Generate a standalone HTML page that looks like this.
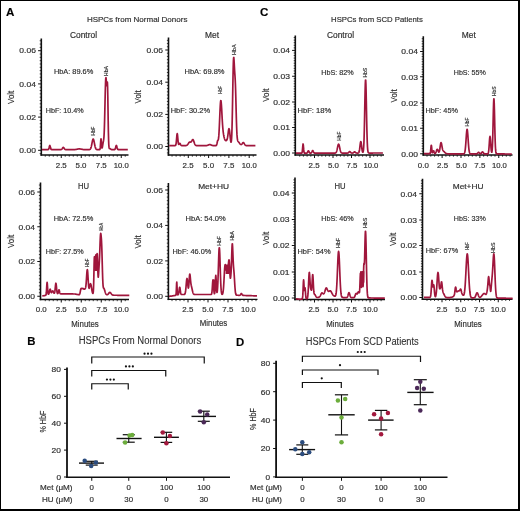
<!DOCTYPE html>
<html><head><meta charset="utf-8"><style>
html,body{margin:0;padding:0;background:#fff;}
body{width:520px;height:511px;overflow:hidden;}
svg{display:block;will-change:transform;}
text{font-family:"Liberation Sans", sans-serif;stroke:#303030;stroke-width:0.18px;}
</style></head><body>
<svg width="520" height="511" viewBox="0 0 520 511">
<rect x="0" y="0" width="520" height="511" fill="#fff"/>
<text x="6.0" y="15.8" font-size="11.6" font-weight="bold" fill="#000">A</text>
<text x="260.0" y="15.6" font-size="11.6" font-weight="bold" fill="#000">C</text>
<text x="86.90" y="22.00" font-size="7.8" fill="#303030" textLength="100.50" lengthAdjust="spacingAndGlyphs">HSPCs from Normal Donors</text>
<text x="331.10" y="22.00" font-size="7.8" fill="#303030" textLength="91.70" lengthAdjust="spacingAndGlyphs">HSPCs from SCD Patients</text>
<line x1="41.30" y1="38.50" x2="41.30" y2="155.70" stroke="#111" stroke-width="1.6"/>
<line x1="40.50" y1="155.00" x2="128.50" y2="155.00" stroke="#111" stroke-width="1.4"/>
<line x1="39.70" y1="146.98" x2="41.30" y2="146.98" stroke="#111" stroke-width="0.8"/>
<line x1="39.70" y1="143.66" x2="41.30" y2="143.66" stroke="#111" stroke-width="0.8"/>
<line x1="39.70" y1="140.34" x2="41.30" y2="140.34" stroke="#111" stroke-width="0.8"/>
<line x1="39.70" y1="137.02" x2="41.30" y2="137.02" stroke="#111" stroke-width="0.8"/>
<line x1="39.70" y1="133.70" x2="41.30" y2="133.70" stroke="#111" stroke-width="0.8"/>
<line x1="39.70" y1="130.38" x2="41.30" y2="130.38" stroke="#111" stroke-width="0.8"/>
<line x1="39.70" y1="127.06" x2="41.30" y2="127.06" stroke="#111" stroke-width="0.8"/>
<line x1="39.70" y1="123.74" x2="41.30" y2="123.74" stroke="#111" stroke-width="0.8"/>
<line x1="39.70" y1="120.42" x2="41.30" y2="120.42" stroke="#111" stroke-width="0.8"/>
<line x1="39.70" y1="113.78" x2="41.30" y2="113.78" stroke="#111" stroke-width="0.8"/>
<line x1="39.70" y1="110.46" x2="41.30" y2="110.46" stroke="#111" stroke-width="0.8"/>
<line x1="39.70" y1="107.14" x2="41.30" y2="107.14" stroke="#111" stroke-width="0.8"/>
<line x1="39.70" y1="103.82" x2="41.30" y2="103.82" stroke="#111" stroke-width="0.8"/>
<line x1="39.70" y1="100.50" x2="41.30" y2="100.50" stroke="#111" stroke-width="0.8"/>
<line x1="39.70" y1="97.18" x2="41.30" y2="97.18" stroke="#111" stroke-width="0.8"/>
<line x1="39.70" y1="93.86" x2="41.30" y2="93.86" stroke="#111" stroke-width="0.8"/>
<line x1="39.70" y1="90.54" x2="41.30" y2="90.54" stroke="#111" stroke-width="0.8"/>
<line x1="39.70" y1="87.22" x2="41.30" y2="87.22" stroke="#111" stroke-width="0.8"/>
<line x1="39.70" y1="80.58" x2="41.30" y2="80.58" stroke="#111" stroke-width="0.8"/>
<line x1="39.70" y1="77.26" x2="41.30" y2="77.26" stroke="#111" stroke-width="0.8"/>
<line x1="39.70" y1="73.94" x2="41.30" y2="73.94" stroke="#111" stroke-width="0.8"/>
<line x1="39.70" y1="70.62" x2="41.30" y2="70.62" stroke="#111" stroke-width="0.8"/>
<line x1="39.70" y1="67.30" x2="41.30" y2="67.30" stroke="#111" stroke-width="0.8"/>
<line x1="39.70" y1="63.98" x2="41.30" y2="63.98" stroke="#111" stroke-width="0.8"/>
<line x1="39.70" y1="60.66" x2="41.30" y2="60.66" stroke="#111" stroke-width="0.8"/>
<line x1="39.70" y1="57.34" x2="41.30" y2="57.34" stroke="#111" stroke-width="0.8"/>
<line x1="39.70" y1="54.02" x2="41.30" y2="54.02" stroke="#111" stroke-width="0.8"/>
<line x1="39.70" y1="47.38" x2="41.30" y2="47.38" stroke="#111" stroke-width="0.8"/>
<line x1="39.70" y1="44.06" x2="41.30" y2="44.06" stroke="#111" stroke-width="0.8"/>
<line x1="39.70" y1="40.74" x2="41.30" y2="40.74" stroke="#111" stroke-width="0.8"/>
<line x1="39.70" y1="153.62" x2="41.30" y2="153.62" stroke="#111" stroke-width="0.8"/>
<line x1="38.10" y1="150.30" x2="41.30" y2="150.30" stroke="#111" stroke-width="1.0"/>
<text x="35.90" y="153.05" font-size="7.6" fill="#303030" text-anchor="end" textLength="16.60" lengthAdjust="spacingAndGlyphs">0.00</text>
<line x1="38.10" y1="117.10" x2="41.30" y2="117.10" stroke="#111" stroke-width="1.0"/>
<text x="35.90" y="119.85" font-size="7.6" fill="#303030" text-anchor="end" textLength="16.60" lengthAdjust="spacingAndGlyphs">0.02</text>
<line x1="38.10" y1="83.90" x2="41.30" y2="83.90" stroke="#111" stroke-width="1.0"/>
<text x="35.90" y="86.65" font-size="7.6" fill="#303030" text-anchor="end" textLength="16.60" lengthAdjust="spacingAndGlyphs">0.04</text>
<line x1="38.10" y1="50.70" x2="41.30" y2="50.70" stroke="#111" stroke-width="1.0"/>
<text x="35.90" y="53.45" font-size="7.6" fill="#303030" text-anchor="end" textLength="16.60" lengthAdjust="spacingAndGlyphs">0.06</text>
<line x1="45.25" y1="155.00" x2="45.25" y2="156.70" stroke="#111" stroke-width="0.8"/>
<line x1="49.25" y1="155.00" x2="49.25" y2="156.70" stroke="#111" stroke-width="0.8"/>
<line x1="53.25" y1="155.00" x2="53.25" y2="156.70" stroke="#111" stroke-width="0.8"/>
<line x1="57.25" y1="155.00" x2="57.25" y2="156.70" stroke="#111" stroke-width="0.8"/>
<line x1="61.25" y1="155.00" x2="61.25" y2="158.00" stroke="#111" stroke-width="1.0"/>
<line x1="65.25" y1="155.00" x2="65.25" y2="156.70" stroke="#111" stroke-width="0.8"/>
<line x1="69.25" y1="155.00" x2="69.25" y2="156.70" stroke="#111" stroke-width="0.8"/>
<line x1="73.25" y1="155.00" x2="73.25" y2="156.70" stroke="#111" stroke-width="0.8"/>
<line x1="77.25" y1="155.00" x2="77.25" y2="156.70" stroke="#111" stroke-width="0.8"/>
<line x1="81.25" y1="155.00" x2="81.25" y2="158.00" stroke="#111" stroke-width="1.0"/>
<line x1="85.25" y1="155.00" x2="85.25" y2="156.70" stroke="#111" stroke-width="0.8"/>
<line x1="89.25" y1="155.00" x2="89.25" y2="156.70" stroke="#111" stroke-width="0.8"/>
<line x1="93.25" y1="155.00" x2="93.25" y2="156.70" stroke="#111" stroke-width="0.8"/>
<line x1="97.25" y1="155.00" x2="97.25" y2="156.70" stroke="#111" stroke-width="0.8"/>
<line x1="101.25" y1="155.00" x2="101.25" y2="158.00" stroke="#111" stroke-width="1.0"/>
<line x1="105.25" y1="155.00" x2="105.25" y2="156.70" stroke="#111" stroke-width="0.8"/>
<line x1="109.25" y1="155.00" x2="109.25" y2="156.70" stroke="#111" stroke-width="0.8"/>
<line x1="113.25" y1="155.00" x2="113.25" y2="156.70" stroke="#111" stroke-width="0.8"/>
<line x1="117.25" y1="155.00" x2="117.25" y2="156.70" stroke="#111" stroke-width="0.8"/>
<line x1="121.25" y1="155.00" x2="121.25" y2="158.00" stroke="#111" stroke-width="1.0"/>
<line x1="125.25" y1="155.00" x2="125.25" y2="156.70" stroke="#111" stroke-width="0.8"/>
<text x="61.25" y="168.00" font-size="7.6" fill="#303030" text-anchor="middle" textLength="11.00" lengthAdjust="spacingAndGlyphs">2.5</text>
<text x="81.00" y="168.00" font-size="7.6" fill="#303030" text-anchor="middle" textLength="11.00" lengthAdjust="spacingAndGlyphs">5.0</text>
<text x="101.25" y="168.00" font-size="7.6" fill="#303030" text-anchor="middle" textLength="11.00" lengthAdjust="spacingAndGlyphs">7.5</text>
<text x="121.25" y="168.00" font-size="7.6" fill="#303030" text-anchor="middle" textLength="15.00" lengthAdjust="spacingAndGlyphs">10.0</text>
<text x="14.40" y="97.30" font-size="8.4" fill="#303030" text-anchor="middle" textLength="13.20" lengthAdjust="spacingAndGlyphs" transform="rotate(-90 14.40 97.30)">Volt</text>
<text x="83.50" y="38.30" font-size="8.2" fill="#303030" text-anchor="middle" textLength="27.00" lengthAdjust="spacingAndGlyphs">Control</text>
<text x="53.90" y="74.20" font-size="7.4" fill="#303030" textLength="39.40" lengthAdjust="spacingAndGlyphs">HbA: 89.6%</text>
<text x="45.75" y="112.60" font-size="7.4" fill="#303030" textLength="38.00" lengthAdjust="spacingAndGlyphs">HbF: 10.4%</text>
<text x="95.20" y="135.40" font-size="5.6" fill="#303030" textLength="8.70" lengthAdjust="spacingAndGlyphs" transform="rotate(-90 95.20 135.40)">HbF</text>
<text x="107.90" y="76.00" font-size="5.6" fill="#303030" textLength="10.00" lengthAdjust="spacingAndGlyphs" transform="rotate(-90 107.90 76.00)">HbA</text>
<polyline points="42.00,149.60 42.20,149.60 42.40,149.60 42.60,149.60 42.80,149.60 43.00,149.60 43.20,149.60 43.40,149.60 43.60,149.60 43.80,149.60 44.00,149.60 44.20,149.60 44.40,149.60 44.60,149.60 44.80,149.60 45.00,149.60 45.20,149.60 45.40,149.60 45.60,149.60 45.80,149.60 46.00,149.60 46.20,149.60 46.40,149.61 46.60,149.61 46.80,149.61 47.00,149.61 47.20,149.61 47.40,149.61 47.60,149.60 47.80,149.60 48.00,149.58 48.20,149.53 48.40,149.41 48.60,149.16 48.80,148.73 49.00,148.07 49.20,147.25 49.40,146.40 49.60,145.74 49.80,145.50 50.00,145.74 50.20,146.40 50.40,147.25 50.60,148.08 50.80,148.73 51.00,149.16 51.20,149.41 51.40,149.53 51.60,149.58 51.80,149.60 52.00,149.61 52.20,149.61 52.40,149.61 52.60,149.61 52.80,149.61 53.00,149.61 53.20,149.61 53.40,149.61 53.60,149.61 53.80,149.61 54.00,149.61 54.20,149.61 54.40,149.61 54.60,149.61 54.80,149.61 55.00,149.62 55.20,149.62 55.40,149.62 55.60,149.62 55.80,149.62 56.00,149.62 56.20,149.62 56.40,149.62 56.60,149.62 56.80,149.62 57.00,149.62 57.20,149.62 57.40,149.62 57.60,149.62 57.80,149.62 58.00,149.62 58.20,149.62 58.40,149.62 58.60,149.62 58.80,149.62 59.00,149.62 59.20,149.62 59.40,149.62 59.60,149.62 59.80,149.62 60.00,149.62 60.20,149.62 60.40,149.62 60.60,149.61 60.80,149.60 61.00,149.57 61.20,149.53 61.40,149.46 61.60,149.35 61.80,149.19 62.00,148.97 62.20,148.70 62.40,148.39 62.60,148.07 62.80,147.77 63.00,147.54 63.20,147.41 63.40,147.40 63.60,147.51 63.80,147.72 64.00,148.01 64.20,148.33 64.40,148.65 64.60,148.92 64.80,149.15 65.00,149.32 65.20,149.44 65.40,149.52 65.60,149.57 65.80,149.60 66.00,149.61 66.20,149.62 66.40,149.63 66.60,149.63 66.80,149.63 67.00,149.63 67.20,149.63 67.40,149.63 67.60,149.63 67.80,149.63 68.00,149.63 68.20,149.63 68.40,149.63 68.60,149.63 68.80,149.63 69.00,149.63 69.20,149.63 69.40,149.63 69.60,149.63 69.80,149.63 70.00,149.63 70.20,149.63 70.40,149.63 70.60,149.63 70.80,149.63 71.00,149.63 71.20,149.63 71.40,149.63 71.60,149.63 71.80,149.63 72.00,149.63 72.20,149.63 72.40,149.63 72.60,149.63 72.80,149.63 73.00,149.63 73.20,149.63 73.40,149.62 73.60,149.62 73.80,149.61 74.00,149.61 74.20,149.60 74.40,149.59 74.60,149.58 74.80,149.56 75.00,149.55 75.20,149.53 75.40,149.51 75.60,149.48 75.80,149.45 76.00,149.42 76.20,149.39 76.40,149.35 76.60,149.32 76.80,149.28 77.00,149.23 77.20,149.19 77.40,149.15 77.60,149.11 77.80,149.07 78.00,149.03 78.20,149.00 78.40,148.97 78.60,148.94 78.80,148.92 79.00,148.91 79.20,148.90 79.40,148.90 79.60,148.91 79.80,148.92 80.00,148.94 80.20,148.97 80.40,149.00 80.60,149.03 80.80,149.07 81.00,149.11 81.20,149.15 81.40,149.20 81.60,149.24 81.80,149.28 82.00,149.32 82.20,149.36 82.40,149.40 82.60,149.43 82.80,149.46 83.00,149.49 83.20,149.52 83.40,149.54 83.60,149.56 83.80,149.57 84.00,149.59 84.20,149.60 84.40,149.61 84.60,149.62 84.80,149.63 85.00,149.63 85.20,149.64 85.40,149.64 85.60,149.64 85.80,149.64 86.00,149.65 86.20,149.65 86.40,149.65 86.60,149.65 86.80,149.65 87.00,149.65 87.20,149.65 87.40,149.65 87.60,149.65 87.80,149.65 88.00,149.65 88.20,149.65 88.40,149.65 88.60,149.65 88.80,149.64 89.00,149.63 89.20,149.61 89.40,149.58 89.60,149.53 89.80,149.45 90.00,149.34 90.20,149.17 90.40,148.93 90.60,148.60 90.80,148.18 91.00,147.63 91.20,146.96 91.40,146.16 91.60,145.24 91.80,144.24 92.00,143.18 92.20,142.13 92.40,141.15 92.60,140.29 92.80,139.63 93.00,139.21 93.20,139.07 93.40,139.21 93.60,139.63 93.80,140.30 94.00,141.15 94.20,142.13 94.40,143.18 94.60,144.24 94.80,145.24 95.00,146.16 95.20,146.96 95.40,147.63 95.60,148.18 95.80,148.61 96.00,148.93 96.20,149.17 96.40,149.34 96.60,149.46 96.80,149.54 97.00,149.59 97.20,149.62 97.40,149.64 97.60,149.65 97.80,149.66 98.00,149.66 98.20,149.66 98.40,149.66 98.60,149.67 98.80,149.67 99.00,149.67 99.20,149.67 99.40,149.66 99.60,149.63 99.80,149.48 100.00,149.03 100.20,147.90 100.40,145.77 100.60,142.79 100.80,140.00 101.00,138.83 101.20,139.96 101.40,142.68 101.60,145.52 101.80,147.39 102.00,148.06 102.20,147.82 102.40,147.00 102.60,145.86 102.80,144.57 103.00,143.32 103.20,142.22 103.40,141.24 103.60,140.20 103.80,138.71 104.00,136.32 104.20,132.60 104.40,127.28 104.60,120.34 104.80,112.10 105.00,103.16 105.20,94.36 105.40,86.67 105.60,80.98 105.80,77.91 106.00,77.61 106.20,79.56 106.40,82.54 106.60,84.98 106.80,85.58 107.00,84.17 107.20,82.19 107.40,82.21 107.60,86.53 107.80,95.74 108.00,108.25 108.20,121.29 108.40,132.33 108.60,140.14 108.80,144.81 109.00,147.17 109.20,148.16 109.40,148.49 109.60,148.57 109.80,148.60 110.00,148.64 110.20,148.73 110.40,148.86 110.60,149.01 110.80,149.16 111.00,149.30 111.20,149.42 111.40,149.51 111.60,149.57 111.80,149.62 112.00,149.65 112.20,149.66 112.40,149.67 112.60,149.68 112.80,149.68 113.00,149.68 113.20,149.68 113.40,149.68 113.60,149.68 113.80,149.68 114.00,149.68 114.20,149.67 114.40,149.65 114.60,149.60 114.80,149.49 115.00,149.28 115.20,148.90 115.40,148.35 115.60,147.61 115.80,146.79 116.00,146.05 116.20,145.56 116.40,145.48 116.60,145.81 116.80,146.47 117.00,147.29 117.20,148.07 117.40,148.71 117.60,149.15 117.80,149.42 118.00,149.57 118.20,149.64 118.40,149.67 118.60,149.68 118.80,149.69 119.00,149.69 119.20,149.69 119.40,149.69 119.60,149.69 119.80,149.69 120.00,149.69 120.20,149.69 120.40,149.69 120.60,149.69 120.80,149.69 121.00,149.69 121.20,149.69 121.40,149.69 121.60,149.69 121.80,149.69 122.00,149.69 122.20,149.69 122.40,149.69 122.60,149.69 122.80,149.69 123.00,149.69 123.20,149.69 123.40,149.69 123.60,149.69 123.80,149.70 124.00,149.70 124.20,149.70 124.40,149.70 124.60,149.70 124.80,149.70 125.00,149.70 125.20,149.70 125.40,149.70 125.60,149.70 125.80,149.70 126.00,149.70 126.20,149.70 126.40,149.70 126.60,149.70 126.80,149.70 127.00,149.70 127.20,149.70 127.40,149.70 127.60,149.70 127.80,149.70" fill="none" stroke="#a0163c" stroke-width="1.7" stroke-linejoin="round"/>
<line x1="168.50" y1="37.50" x2="168.50" y2="155.70" stroke="#111" stroke-width="1.6"/>
<line x1="167.70" y1="155.00" x2="256.50" y2="155.00" stroke="#111" stroke-width="1.4"/>
<line x1="166.90" y1="143.28" x2="168.50" y2="143.28" stroke="#111" stroke-width="0.8"/>
<line x1="166.90" y1="140.07" x2="168.50" y2="140.07" stroke="#111" stroke-width="0.8"/>
<line x1="166.90" y1="136.85" x2="168.50" y2="136.85" stroke="#111" stroke-width="0.8"/>
<line x1="166.90" y1="133.63" x2="168.50" y2="133.63" stroke="#111" stroke-width="0.8"/>
<line x1="166.90" y1="130.42" x2="168.50" y2="130.42" stroke="#111" stroke-width="0.8"/>
<line x1="166.90" y1="127.20" x2="168.50" y2="127.20" stroke="#111" stroke-width="0.8"/>
<line x1="166.90" y1="123.98" x2="168.50" y2="123.98" stroke="#111" stroke-width="0.8"/>
<line x1="166.90" y1="120.77" x2="168.50" y2="120.77" stroke="#111" stroke-width="0.8"/>
<line x1="166.90" y1="117.55" x2="168.50" y2="117.55" stroke="#111" stroke-width="0.8"/>
<line x1="166.90" y1="111.12" x2="168.50" y2="111.12" stroke="#111" stroke-width="0.8"/>
<line x1="166.90" y1="107.90" x2="168.50" y2="107.90" stroke="#111" stroke-width="0.8"/>
<line x1="166.90" y1="104.68" x2="168.50" y2="104.68" stroke="#111" stroke-width="0.8"/>
<line x1="166.90" y1="101.47" x2="168.50" y2="101.47" stroke="#111" stroke-width="0.8"/>
<line x1="166.90" y1="98.25" x2="168.50" y2="98.25" stroke="#111" stroke-width="0.8"/>
<line x1="166.90" y1="95.03" x2="168.50" y2="95.03" stroke="#111" stroke-width="0.8"/>
<line x1="166.90" y1="91.82" x2="168.50" y2="91.82" stroke="#111" stroke-width="0.8"/>
<line x1="166.90" y1="88.60" x2="168.50" y2="88.60" stroke="#111" stroke-width="0.8"/>
<line x1="166.90" y1="85.38" x2="168.50" y2="85.38" stroke="#111" stroke-width="0.8"/>
<line x1="166.90" y1="78.95" x2="168.50" y2="78.95" stroke="#111" stroke-width="0.8"/>
<line x1="166.90" y1="75.73" x2="168.50" y2="75.73" stroke="#111" stroke-width="0.8"/>
<line x1="166.90" y1="72.52" x2="168.50" y2="72.52" stroke="#111" stroke-width="0.8"/>
<line x1="166.90" y1="69.30" x2="168.50" y2="69.30" stroke="#111" stroke-width="0.8"/>
<line x1="166.90" y1="66.08" x2="168.50" y2="66.08" stroke="#111" stroke-width="0.8"/>
<line x1="166.90" y1="62.87" x2="168.50" y2="62.87" stroke="#111" stroke-width="0.8"/>
<line x1="166.90" y1="59.65" x2="168.50" y2="59.65" stroke="#111" stroke-width="0.8"/>
<line x1="166.90" y1="56.43" x2="168.50" y2="56.43" stroke="#111" stroke-width="0.8"/>
<line x1="166.90" y1="53.22" x2="168.50" y2="53.22" stroke="#111" stroke-width="0.8"/>
<line x1="166.90" y1="46.78" x2="168.50" y2="46.78" stroke="#111" stroke-width="0.8"/>
<line x1="166.90" y1="43.57" x2="168.50" y2="43.57" stroke="#111" stroke-width="0.8"/>
<line x1="166.90" y1="40.35" x2="168.50" y2="40.35" stroke="#111" stroke-width="0.8"/>
<line x1="166.90" y1="149.72" x2="168.50" y2="149.72" stroke="#111" stroke-width="0.8"/>
<line x1="166.90" y1="152.93" x2="168.50" y2="152.93" stroke="#111" stroke-width="0.8"/>
<line x1="165.30" y1="146.50" x2="168.50" y2="146.50" stroke="#111" stroke-width="1.0"/>
<text x="163.10" y="149.25" font-size="7.6" fill="#303030" text-anchor="end" textLength="16.60" lengthAdjust="spacingAndGlyphs">0.00</text>
<line x1="165.30" y1="114.40" x2="168.50" y2="114.40" stroke="#111" stroke-width="1.0"/>
<text x="163.10" y="117.15" font-size="7.6" fill="#303030" text-anchor="end" textLength="16.60" lengthAdjust="spacingAndGlyphs">0.02</text>
<line x1="165.30" y1="82.20" x2="168.50" y2="82.20" stroke="#111" stroke-width="1.0"/>
<text x="163.10" y="84.95" font-size="7.6" fill="#303030" text-anchor="end" textLength="16.60" lengthAdjust="spacingAndGlyphs">0.04</text>
<line x1="165.30" y1="50.00" x2="168.50" y2="50.00" stroke="#111" stroke-width="1.0"/>
<text x="163.10" y="52.75" font-size="7.6" fill="#303030" text-anchor="end" textLength="16.60" lengthAdjust="spacingAndGlyphs">0.06</text>
<line x1="172.06" y1="155.00" x2="172.06" y2="156.70" stroke="#111" stroke-width="0.8"/>
<line x1="176.12" y1="155.00" x2="176.12" y2="156.70" stroke="#111" stroke-width="0.8"/>
<line x1="180.18" y1="155.00" x2="180.18" y2="156.70" stroke="#111" stroke-width="0.8"/>
<line x1="184.24" y1="155.00" x2="184.24" y2="156.70" stroke="#111" stroke-width="0.8"/>
<line x1="188.30" y1="155.00" x2="188.30" y2="158.00" stroke="#111" stroke-width="1.0"/>
<line x1="192.36" y1="155.00" x2="192.36" y2="156.70" stroke="#111" stroke-width="0.8"/>
<line x1="196.42" y1="155.00" x2="196.42" y2="156.70" stroke="#111" stroke-width="0.8"/>
<line x1="200.48" y1="155.00" x2="200.48" y2="156.70" stroke="#111" stroke-width="0.8"/>
<line x1="204.54" y1="155.00" x2="204.54" y2="156.70" stroke="#111" stroke-width="0.8"/>
<line x1="208.60" y1="155.00" x2="208.60" y2="158.00" stroke="#111" stroke-width="1.0"/>
<line x1="212.66" y1="155.00" x2="212.66" y2="156.70" stroke="#111" stroke-width="0.8"/>
<line x1="216.72" y1="155.00" x2="216.72" y2="156.70" stroke="#111" stroke-width="0.8"/>
<line x1="220.78" y1="155.00" x2="220.78" y2="156.70" stroke="#111" stroke-width="0.8"/>
<line x1="224.84" y1="155.00" x2="224.84" y2="156.70" stroke="#111" stroke-width="0.8"/>
<line x1="228.90" y1="155.00" x2="228.90" y2="158.00" stroke="#111" stroke-width="1.0"/>
<line x1="232.96" y1="155.00" x2="232.96" y2="156.70" stroke="#111" stroke-width="0.8"/>
<line x1="237.02" y1="155.00" x2="237.02" y2="156.70" stroke="#111" stroke-width="0.8"/>
<line x1="241.08" y1="155.00" x2="241.08" y2="156.70" stroke="#111" stroke-width="0.8"/>
<line x1="245.14" y1="155.00" x2="245.14" y2="156.70" stroke="#111" stroke-width="0.8"/>
<line x1="249.20" y1="155.00" x2="249.20" y2="158.00" stroke="#111" stroke-width="1.0"/>
<line x1="253.26" y1="155.00" x2="253.26" y2="156.70" stroke="#111" stroke-width="0.8"/>
<text x="188.10" y="168.00" font-size="7.6" fill="#303030" text-anchor="middle" textLength="11.00" lengthAdjust="spacingAndGlyphs">2.5</text>
<text x="208.60" y="168.00" font-size="7.6" fill="#303030" text-anchor="middle" textLength="11.00" lengthAdjust="spacingAndGlyphs">5.0</text>
<text x="228.80" y="168.00" font-size="7.6" fill="#303030" text-anchor="middle" textLength="11.00" lengthAdjust="spacingAndGlyphs">7.5</text>
<text x="249.20" y="168.00" font-size="7.6" fill="#303030" text-anchor="middle" textLength="15.00" lengthAdjust="spacingAndGlyphs">10.0</text>
<text x="141.30" y="96.80" font-size="8.4" fill="#303030" text-anchor="middle" textLength="13.20" lengthAdjust="spacingAndGlyphs" transform="rotate(-90 141.30 96.80)">Volt</text>
<text x="212.00" y="38.30" font-size="8.2" fill="#303030" text-anchor="middle" textLength="14.00" lengthAdjust="spacingAndGlyphs">Met</text>
<text x="184.50" y="74.35" font-size="7.4" fill="#303030" textLength="40.00" lengthAdjust="spacingAndGlyphs">HbA: 69.8%</text>
<text x="170.75" y="113.10" font-size="7.4" fill="#303030" textLength="39.25" lengthAdjust="spacingAndGlyphs">HbF: 30.2%</text>
<text x="222.40" y="93.70" font-size="5.6" fill="#303030" textLength="7.70" lengthAdjust="spacingAndGlyphs" transform="rotate(-90 222.40 93.70)">HbF</text>
<text x="235.60" y="55.00" font-size="5.6" fill="#303030" textLength="10.50" lengthAdjust="spacingAndGlyphs" transform="rotate(-90 235.60 55.00)">HbA</text>
<polyline points="169.20,145.60 169.40,145.60 169.60,145.60 169.80,145.60 170.00,145.60 170.20,145.60 170.40,145.60 170.60,145.60 170.80,145.60 171.00,145.60 171.20,145.60 171.40,145.60 171.60,145.60 171.80,145.60 172.00,145.60 172.20,145.60 172.40,145.60 172.60,145.60 172.80,145.60 173.00,145.60 173.20,145.60 173.40,145.61 173.60,145.61 173.80,145.61 174.00,145.61 174.20,145.61 174.40,145.61 174.60,145.61 174.80,145.60 175.00,145.59 175.20,145.57 175.40,145.49 175.60,145.29 175.80,144.88 176.00,144.09 176.20,142.78 176.40,140.89 176.60,138.57 176.80,136.21 177.00,134.38 177.20,133.60 177.40,134.12 177.60,135.77 177.80,138.06 178.00,140.39 178.20,142.31 178.40,143.62 178.60,144.30 178.80,144.48 179.00,144.34 179.20,144.02 179.40,143.67 179.60,143.41 179.80,143.31 180.00,143.41 180.20,143.69 180.40,144.07 180.60,144.49 180.80,144.86 181.00,145.15 181.20,145.35 181.40,145.48 181.60,145.55 181.80,145.59 182.00,145.60 182.20,145.61 182.40,145.61 182.60,145.62 182.80,145.62 183.00,145.62 183.20,145.62 183.40,145.62 183.60,145.62 183.80,145.62 184.00,145.62 184.20,145.62 184.40,145.62 184.60,145.62 184.80,145.61 185.00,145.61 185.20,145.61 185.40,145.60 185.60,145.58 185.80,145.57 186.00,145.54 186.20,145.50 186.40,145.44 186.60,145.37 186.80,145.27 187.00,145.15 187.20,144.99 187.40,144.81 187.60,144.58 187.80,144.33 188.00,144.05 188.20,143.74 188.40,143.43 188.60,143.12 188.80,142.83 189.00,142.56 189.20,142.34 189.40,142.17 189.60,142.06 189.80,142.01 190.00,142.00 190.20,142.02 190.40,142.06 190.60,142.08 190.80,142.07 191.00,141.99 191.20,141.85 191.40,141.63 191.60,141.33 191.80,140.97 192.00,140.59 192.20,140.22 192.40,139.91 192.60,139.69 192.80,139.60 193.00,139.66 193.20,139.87 193.40,140.22 193.60,140.70 193.80,141.26 194.00,141.87 194.20,142.49 194.40,143.08 194.60,143.63 194.80,144.10 195.00,144.50 195.20,144.82 195.40,145.06 195.60,145.25 195.80,145.38 196.00,145.47 196.20,145.53 196.40,145.57 196.60,145.60 196.80,145.61 197.00,145.62 197.20,145.63 197.40,145.63 197.60,145.63 197.80,145.63 198.00,145.63 198.20,145.63 198.40,145.63 198.60,145.63 198.80,145.63 199.00,145.63 199.20,145.63 199.40,145.63 199.60,145.64 199.80,145.64 200.00,145.64 200.20,145.64 200.40,145.64 200.60,145.64 200.80,145.64 201.00,145.64 201.20,145.64 201.40,145.64 201.60,145.64 201.80,145.64 202.00,145.64 202.20,145.64 202.40,145.64 202.60,145.64 202.80,145.64 203.00,145.64 203.20,145.64 203.40,145.64 203.60,145.64 203.80,145.64 204.00,145.64 204.20,145.64 204.40,145.64 204.60,145.64 204.80,145.64 205.00,145.64 205.20,145.64 205.40,145.63 205.60,145.63 205.80,145.62 206.00,145.61 206.20,145.60 206.40,145.58 206.60,145.56 206.80,145.52 207.00,145.48 207.20,145.43 207.40,145.38 207.60,145.31 207.80,145.23 208.00,145.15 208.20,145.06 208.40,144.96 208.60,144.87 208.80,144.79 209.00,144.71 209.20,144.65 209.40,144.61 209.60,144.58 209.80,144.58 210.00,144.60 210.20,144.64 210.40,144.69 210.60,144.77 210.80,144.85 211.00,144.94 211.20,145.03 211.40,145.12 211.60,145.21 211.80,145.29 212.00,145.36 212.20,145.42 212.40,145.48 212.60,145.52 212.80,145.55 213.00,145.58 213.20,145.60 213.40,145.62 213.60,145.63 213.80,145.64 214.00,145.64 214.20,145.65 214.40,145.65 214.60,145.65 214.80,145.65 215.00,145.65 215.20,145.65 215.40,145.65 215.60,145.65 215.80,145.64 216.00,145.60 216.20,145.51 216.40,145.31 216.60,144.94 216.80,144.33 217.00,143.47 217.20,142.46 217.40,141.48 217.60,140.74 217.80,140.32 218.00,140.13 218.20,139.90 218.40,139.28 218.60,137.99 218.80,135.88 219.00,132.95 219.20,129.26 219.40,124.97 219.60,120.30 219.80,115.52 220.00,110.93 220.20,106.86 220.40,103.61 220.60,101.44 220.80,100.49 221.00,100.79 221.20,102.27 221.40,104.72 221.60,107.89 221.80,111.49 222.00,115.23 222.20,118.87 222.40,122.24 222.60,125.23 222.80,127.81 223.00,129.99 223.20,131.82 223.40,133.36 223.60,134.66 223.80,135.78 224.00,136.76 224.20,137.60 224.40,138.34 224.60,138.96 224.80,139.47 225.00,139.87 225.20,140.18 225.40,140.40 225.60,140.54 225.80,140.61 226.00,140.63 226.20,140.59 226.40,140.50 226.60,140.33 226.80,140.07 227.00,139.67 227.20,139.08 227.40,138.27 227.60,137.20 227.80,135.89 228.00,134.38 228.20,132.77 228.40,131.22 228.60,129.90 228.80,129.00 229.00,128.64 229.20,128.92 229.40,129.83 229.60,131.28 229.80,133.11 230.00,135.14 230.20,137.16 230.40,139.01 230.60,140.55 230.80,141.63 231.00,142.14 231.20,141.92 231.40,140.75 231.60,138.35 231.80,134.38 232.00,128.56 232.20,120.73 232.40,111.01 232.60,99.86 232.80,88.16 233.00,77.03 233.20,67.68 233.40,61.08 233.60,57.72 233.80,57.45 234.00,59.56 234.20,63.03 234.40,66.84 234.60,70.33 234.80,73.34 235.00,76.21 235.20,79.57 235.40,83.98 235.60,89.75 235.80,96.78 236.00,104.59 236.20,112.52 236.40,119.89 236.60,126.20 236.80,131.21 237.00,134.90 237.20,137.45 237.40,139.11 237.60,140.15 237.80,140.79 238.00,141.21 238.20,141.52 238.40,141.78 238.60,142.03 238.80,142.28 239.00,142.54 239.20,142.81 239.40,143.07 239.60,143.34 239.80,143.59 240.00,143.82 240.20,144.04 240.40,144.23 240.60,144.38 240.80,144.49 241.00,144.54 241.20,144.55 241.40,144.49 241.60,144.36 241.80,144.18 242.00,143.94 242.20,143.67 242.40,143.38 242.60,143.10 242.80,142.86 243.00,142.68 243.20,142.59 243.40,142.60 243.60,142.70 243.80,142.90 244.00,143.17 244.20,143.48 244.40,143.83 244.60,144.17 244.80,144.49 245.00,144.77 245.20,145.02 245.40,145.21 245.60,145.36 245.80,145.47 246.00,145.55 246.20,145.60 246.40,145.64 246.60,145.66 246.80,145.67 247.00,145.68 247.20,145.69 247.40,145.69 247.60,145.69 247.80,145.69 248.00,145.69 248.20,145.69 248.40,145.69 248.60,145.69 248.80,145.69 249.00,145.69 249.20,145.69 249.40,145.69 249.60,145.69 249.80,145.69 250.00,145.69 250.20,145.69 250.40,145.69 250.60,145.69 250.80,145.69 251.00,145.69 251.20,145.69 251.40,145.69 251.60,145.69 251.80,145.70 252.00,145.70 252.20,145.70 252.40,145.70 252.60,145.70 252.80,145.70 253.00,145.70 253.20,145.70 253.40,145.70 253.60,145.70 253.80,145.70 254.00,145.70 254.20,145.70 254.40,145.70 254.60,145.70 254.80,145.70 255.00,145.70 255.20,145.70 255.40,145.70" fill="none" stroke="#a0163c" stroke-width="1.7" stroke-linejoin="round"/>
<line x1="40.50" y1="182.50" x2="40.50" y2="300.20" stroke="#111" stroke-width="1.6"/>
<line x1="39.70" y1="299.50" x2="129.00" y2="299.50" stroke="#111" stroke-width="1.4"/>
<line x1="38.90" y1="292.77" x2="40.50" y2="292.77" stroke="#111" stroke-width="0.8"/>
<line x1="38.90" y1="289.30" x2="40.50" y2="289.30" stroke="#111" stroke-width="0.8"/>
<line x1="38.90" y1="285.82" x2="40.50" y2="285.82" stroke="#111" stroke-width="0.8"/>
<line x1="38.90" y1="282.35" x2="40.50" y2="282.35" stroke="#111" stroke-width="0.8"/>
<line x1="38.90" y1="278.88" x2="40.50" y2="278.88" stroke="#111" stroke-width="0.8"/>
<line x1="38.90" y1="275.40" x2="40.50" y2="275.40" stroke="#111" stroke-width="0.8"/>
<line x1="38.90" y1="271.93" x2="40.50" y2="271.93" stroke="#111" stroke-width="0.8"/>
<line x1="38.90" y1="268.45" x2="40.50" y2="268.45" stroke="#111" stroke-width="0.8"/>
<line x1="38.90" y1="264.98" x2="40.50" y2="264.98" stroke="#111" stroke-width="0.8"/>
<line x1="38.90" y1="258.02" x2="40.50" y2="258.02" stroke="#111" stroke-width="0.8"/>
<line x1="38.90" y1="254.55" x2="40.50" y2="254.55" stroke="#111" stroke-width="0.8"/>
<line x1="38.90" y1="251.07" x2="40.50" y2="251.07" stroke="#111" stroke-width="0.8"/>
<line x1="38.90" y1="247.60" x2="40.50" y2="247.60" stroke="#111" stroke-width="0.8"/>
<line x1="38.90" y1="244.12" x2="40.50" y2="244.12" stroke="#111" stroke-width="0.8"/>
<line x1="38.90" y1="240.65" x2="40.50" y2="240.65" stroke="#111" stroke-width="0.8"/>
<line x1="38.90" y1="237.18" x2="40.50" y2="237.18" stroke="#111" stroke-width="0.8"/>
<line x1="38.90" y1="233.70" x2="40.50" y2="233.70" stroke="#111" stroke-width="0.8"/>
<line x1="38.90" y1="230.22" x2="40.50" y2="230.22" stroke="#111" stroke-width="0.8"/>
<line x1="38.90" y1="223.27" x2="40.50" y2="223.27" stroke="#111" stroke-width="0.8"/>
<line x1="38.90" y1="219.80" x2="40.50" y2="219.80" stroke="#111" stroke-width="0.8"/>
<line x1="38.90" y1="216.32" x2="40.50" y2="216.32" stroke="#111" stroke-width="0.8"/>
<line x1="38.90" y1="212.85" x2="40.50" y2="212.85" stroke="#111" stroke-width="0.8"/>
<line x1="38.90" y1="209.38" x2="40.50" y2="209.38" stroke="#111" stroke-width="0.8"/>
<line x1="38.90" y1="205.90" x2="40.50" y2="205.90" stroke="#111" stroke-width="0.8"/>
<line x1="38.90" y1="202.43" x2="40.50" y2="202.43" stroke="#111" stroke-width="0.8"/>
<line x1="38.90" y1="198.95" x2="40.50" y2="198.95" stroke="#111" stroke-width="0.8"/>
<line x1="38.90" y1="195.47" x2="40.50" y2="195.47" stroke="#111" stroke-width="0.8"/>
<line x1="38.90" y1="188.52" x2="40.50" y2="188.52" stroke="#111" stroke-width="0.8"/>
<line x1="38.90" y1="185.05" x2="40.50" y2="185.05" stroke="#111" stroke-width="0.8"/>
<line x1="37.30" y1="296.25" x2="40.50" y2="296.25" stroke="#111" stroke-width="1.0"/>
<text x="35.10" y="299.00" font-size="7.6" fill="#303030" text-anchor="end" textLength="16.60" lengthAdjust="spacingAndGlyphs">0.00</text>
<line x1="37.30" y1="261.50" x2="40.50" y2="261.50" stroke="#111" stroke-width="1.0"/>
<text x="35.10" y="264.25" font-size="7.6" fill="#303030" text-anchor="end" textLength="16.60" lengthAdjust="spacingAndGlyphs">0.02</text>
<line x1="37.30" y1="226.75" x2="40.50" y2="226.75" stroke="#111" stroke-width="1.0"/>
<text x="35.10" y="229.50" font-size="7.6" fill="#303030" text-anchor="end" textLength="16.60" lengthAdjust="spacingAndGlyphs">0.04</text>
<line x1="37.30" y1="192.00" x2="40.50" y2="192.00" stroke="#111" stroke-width="1.0"/>
<text x="35.10" y="194.75" font-size="7.6" fill="#303030" text-anchor="end" textLength="16.60" lengthAdjust="spacingAndGlyphs">0.06</text>
<line x1="45.25" y1="299.50" x2="45.25" y2="301.20" stroke="#111" stroke-width="0.8"/>
<line x1="49.25" y1="299.50" x2="49.25" y2="301.20" stroke="#111" stroke-width="0.8"/>
<line x1="53.25" y1="299.50" x2="53.25" y2="301.20" stroke="#111" stroke-width="0.8"/>
<line x1="57.25" y1="299.50" x2="57.25" y2="301.20" stroke="#111" stroke-width="0.8"/>
<line x1="61.25" y1="299.50" x2="61.25" y2="302.50" stroke="#111" stroke-width="1.0"/>
<line x1="65.25" y1="299.50" x2="65.25" y2="301.20" stroke="#111" stroke-width="0.8"/>
<line x1="69.25" y1="299.50" x2="69.25" y2="301.20" stroke="#111" stroke-width="0.8"/>
<line x1="73.25" y1="299.50" x2="73.25" y2="301.20" stroke="#111" stroke-width="0.8"/>
<line x1="77.25" y1="299.50" x2="77.25" y2="301.20" stroke="#111" stroke-width="0.8"/>
<line x1="81.25" y1="299.50" x2="81.25" y2="302.50" stroke="#111" stroke-width="1.0"/>
<line x1="85.25" y1="299.50" x2="85.25" y2="301.20" stroke="#111" stroke-width="0.8"/>
<line x1="89.25" y1="299.50" x2="89.25" y2="301.20" stroke="#111" stroke-width="0.8"/>
<line x1="93.25" y1="299.50" x2="93.25" y2="301.20" stroke="#111" stroke-width="0.8"/>
<line x1="97.25" y1="299.50" x2="97.25" y2="301.20" stroke="#111" stroke-width="0.8"/>
<line x1="101.25" y1="299.50" x2="101.25" y2="302.50" stroke="#111" stroke-width="1.0"/>
<line x1="105.25" y1="299.50" x2="105.25" y2="301.20" stroke="#111" stroke-width="0.8"/>
<line x1="109.25" y1="299.50" x2="109.25" y2="301.20" stroke="#111" stroke-width="0.8"/>
<line x1="113.25" y1="299.50" x2="113.25" y2="301.20" stroke="#111" stroke-width="0.8"/>
<line x1="117.25" y1="299.50" x2="117.25" y2="301.20" stroke="#111" stroke-width="0.8"/>
<line x1="121.25" y1="299.50" x2="121.25" y2="302.50" stroke="#111" stroke-width="1.0"/>
<line x1="125.25" y1="299.50" x2="125.25" y2="301.20" stroke="#111" stroke-width="0.8"/>
<text x="41.25" y="312.30" font-size="7.6" fill="#303030" text-anchor="middle" textLength="11.00" lengthAdjust="spacingAndGlyphs">0.0</text>
<text x="61.25" y="312.30" font-size="7.6" fill="#303030" text-anchor="middle" textLength="11.00" lengthAdjust="spacingAndGlyphs">2.5</text>
<text x="81.25" y="312.30" font-size="7.6" fill="#303030" text-anchor="middle" textLength="11.00" lengthAdjust="spacingAndGlyphs">5.0</text>
<text x="102.00" y="312.30" font-size="7.6" fill="#303030" text-anchor="middle" textLength="11.00" lengthAdjust="spacingAndGlyphs">7.5</text>
<text x="121.25" y="312.30" font-size="7.6" fill="#303030" text-anchor="middle" textLength="15.00" lengthAdjust="spacingAndGlyphs">10.0</text>
<text x="14.30" y="241.40" font-size="8.4" fill="#303030" text-anchor="middle" textLength="13.20" lengthAdjust="spacingAndGlyphs" transform="rotate(-90 14.30 241.40)">Volt</text>
<text x="83.45" y="188.80" font-size="8.2" fill="#303030" text-anchor="middle" textLength="11.10" lengthAdjust="spacingAndGlyphs">HU</text>
<text x="53.75" y="221.35" font-size="7.4" fill="#303030" textLength="39.50" lengthAdjust="spacingAndGlyphs">HbA: 72.5%</text>
<text x="45.75" y="253.85" font-size="7.4" fill="#303030" textLength="38.00" lengthAdjust="spacingAndGlyphs">HbF: 27.5%</text>
<text x="89.30" y="267.00" font-size="5.6" fill="#303030" textLength="8.40" lengthAdjust="spacingAndGlyphs" transform="rotate(-90 89.30 267.00)">HbF</text>
<text x="103.30" y="230.60" font-size="5.6" fill="#303030" textLength="7.60" lengthAdjust="spacingAndGlyphs" transform="rotate(-90 103.30 230.60)">HbA</text>
<text x="85.00" y="326.60" font-size="9.6" fill="#303030" text-anchor="middle" textLength="27.50" lengthAdjust="spacingAndGlyphs">Minutes</text>
<polyline points="42.30,295.95 42.50,295.92 42.70,295.88 42.90,295.85 43.10,295.82 43.30,295.78 43.50,295.75 43.70,295.72 43.90,295.68 44.10,295.65 44.30,295.62 44.50,295.58 44.70,295.55 44.90,295.52 45.10,295.47 45.30,295.41 45.50,295.34 45.70,295.23 45.90,294.99 46.10,294.38 46.30,292.99 46.50,290.49 46.70,287.07 46.90,283.85 47.10,282.39 47.30,283.49 47.50,286.48 47.70,289.82 47.90,292.31 48.10,293.67 48.30,294.18 48.50,294.23 48.70,294.03 48.90,293.63 49.10,293.01 49.30,292.17 49.50,291.18 49.70,290.20 49.90,289.45 50.10,289.16 50.30,289.39 50.50,290.03 50.70,290.87 50.90,291.68 51.10,292.29 51.30,292.60 51.50,292.61 51.70,292.39 51.90,292.03 52.10,291.63 52.30,291.26 52.50,291.00 52.70,290.91 52.90,290.99 53.10,291.25 53.30,291.62 53.50,292.06 53.70,292.49 53.90,292.87 54.10,293.12 54.30,293.18 54.50,292.95 54.70,292.32 54.90,291.16 55.10,289.47 55.30,287.40 55.50,285.33 55.70,283.78 55.90,283.20 56.10,283.77 56.30,285.32 56.50,287.39 56.70,289.48 56.90,291.20 57.10,292.41 57.30,293.14 57.50,293.50 57.70,293.59 57.90,293.44 58.10,293.03 58.30,292.32 58.50,291.39 58.70,290.47 58.90,289.88 59.10,289.88 59.30,290.46 59.50,291.37 59.70,292.30 59.90,293.01 60.10,293.44 60.30,293.67 60.50,293.76 60.70,293.80 60.90,293.81 61.10,293.81 61.30,293.82 61.50,293.82 61.70,293.82 61.90,293.83 62.10,293.83 62.30,293.83 62.50,293.83 62.70,293.84 62.90,293.84 63.10,293.84 63.30,293.84 63.50,293.85 63.70,293.85 63.90,293.85 64.10,293.85 64.30,293.86 64.50,293.86 64.70,293.86 64.90,293.87 65.10,293.87 65.30,293.87 65.50,293.87 65.70,293.88 65.90,293.88 66.10,293.88 66.30,293.88 66.50,293.89 66.70,293.89 66.90,293.89 67.10,293.89 67.30,293.90 67.50,293.90 67.70,293.90 67.90,293.91 68.10,293.91 68.30,293.91 68.50,293.91 68.70,293.92 68.90,293.92 69.10,293.92 69.30,293.92 69.50,293.93 69.70,293.93 69.90,293.93 70.10,293.93 70.30,293.94 70.50,293.94 70.70,293.94 70.90,293.95 71.10,293.95 71.30,293.95 71.50,293.95 71.70,293.96 71.90,293.96 72.10,293.96 72.30,293.96 72.50,293.97 72.70,293.97 72.90,293.97 73.10,293.97 73.30,293.98 73.50,293.98 73.70,293.98 73.90,293.99 74.10,293.99 74.30,293.99 74.50,293.99 74.70,294.00 74.90,294.00 75.10,294.02 75.30,294.06 75.50,294.10 75.70,294.14 75.90,294.18 76.10,294.22 76.30,294.26 76.50,294.30 76.70,294.34 76.90,294.38 77.10,294.42 77.30,294.46 77.50,294.50 77.70,294.54 77.90,294.58 78.10,294.62 78.30,294.65 78.50,294.69 78.70,294.71 78.90,294.72 79.10,294.69 79.30,294.60 79.50,294.39 79.70,294.03 79.90,293.46 80.10,292.61 80.30,291.55 80.50,290.45 80.70,289.49 80.90,288.80 81.10,288.43 81.30,288.35 81.50,288.43 81.70,288.55 81.90,288.59 82.10,288.58 82.30,288.54 82.50,288.47 82.70,288.43 82.90,288.45 83.10,288.55 83.30,288.70 83.50,288.87 83.70,289.03 83.90,289.16 84.10,289.22 84.30,289.22 84.50,289.17 84.70,289.07 84.90,288.95 85.10,288.78 85.30,288.49 85.50,287.99 85.70,287.13 85.90,285.77 86.10,283.81 86.30,281.25 86.50,278.26 86.70,275.16 86.90,272.38 87.10,270.41 87.30,269.63 87.50,270.20 87.70,272.08 87.90,274.94 88.10,278.31 88.30,281.67 88.50,284.58 88.70,286.71 88.90,287.93 89.10,288.26 89.30,287.87 89.50,287.03 89.70,286.01 89.90,285.05 90.10,284.31 90.30,283.88 90.50,283.75 90.70,283.95 90.90,284.45 91.10,285.25 91.30,286.30 91.50,287.54 91.70,288.84 91.90,290.10 92.10,291.22 92.30,292.13 92.50,292.81 92.70,293.25 92.90,293.43 93.10,293.13 93.30,291.83 93.50,288.63 93.70,282.64 93.90,273.95 94.10,264.58 94.30,257.97 94.50,256.72 94.70,260.27 94.90,265.12 95.10,267.43 95.30,265.64 95.50,261.08 95.70,256.65 95.90,254.74 96.10,255.90 96.30,258.55 96.50,260.22 96.70,259.25 96.90,256.20 97.10,253.60 97.30,254.15 97.50,258.72 97.70,265.76 97.90,272.44 98.10,276.48 98.30,277.17 98.50,275.25 98.70,272.04 98.90,268.62 99.10,265.42 99.30,262.19 99.50,258.39 99.70,253.68 99.90,248.17 100.10,242.57 100.30,237.81 100.50,234.67 100.70,233.46 100.90,233.92 101.10,235.53 101.30,237.86 101.50,240.93 101.70,245.07 101.90,250.65 102.10,257.57 102.30,265.20 102.50,272.54 102.70,278.66 102.90,283.08 103.10,285.83 103.30,287.28 103.50,287.93 103.70,288.21 103.90,288.42 104.10,288.72 104.30,289.16 104.50,289.72 104.70,290.39 104.90,291.09 105.10,291.80 105.30,292.45 105.50,293.04 105.70,293.53 105.90,293.92 106.10,294.22 106.30,294.44 106.50,294.59 106.70,294.68 106.90,294.72 107.10,294.72 107.30,294.67 107.50,294.59 107.70,294.47 107.90,294.32 108.10,294.12 108.30,293.90 108.50,293.65 108.70,293.39 108.90,293.13 109.10,292.89 109.30,292.68 109.50,292.52 109.70,292.42 109.90,292.40 110.10,292.45 110.30,292.56 110.50,292.74 110.70,292.97 110.90,293.23 111.10,293.51 111.30,293.79 111.50,294.05 111.70,294.30 111.90,294.51 112.10,294.69 112.30,294.83 112.50,294.95 112.70,295.04 112.90,295.10 113.10,295.15 113.30,295.18 113.50,295.20 113.70,295.22 113.90,295.23 114.10,295.24 114.30,295.24 114.50,295.25 114.70,295.25 114.90,295.25 115.10,295.25 115.30,295.26 115.50,295.26 115.70,295.26 115.90,295.26 116.10,295.26 116.30,295.27 116.50,295.27 116.70,295.27 116.90,295.27 117.10,295.27 117.30,295.28 117.50,295.28 117.70,295.28 117.90,295.28 118.10,295.29 118.30,295.29 118.50,295.29 118.70,295.29 118.90,295.29 119.10,295.30 119.30,295.30 119.50,295.30 119.70,295.30 119.90,295.30 120.10,295.31 120.30,295.31 120.50,295.31 120.70,295.31 120.90,295.31 121.10,295.32 121.30,295.32 121.50,295.32 121.70,295.32 121.90,295.33 122.10,295.33 122.30,295.33 122.50,295.33 122.70,295.33 122.90,295.34 123.10,295.34 123.30,295.34 123.50,295.34 123.70,295.34 123.90,295.35 124.10,295.35 124.30,295.35 124.50,295.35 124.70,295.35 124.90,295.36 125.10,295.36 125.30,295.36 125.50,295.36 125.70,295.37 125.90,295.37 126.10,295.37 126.30,295.37 126.50,295.37 126.70,295.38 126.90,295.38 127.10,295.38 127.30,295.38 127.50,295.38 127.70,295.39 127.90,295.39 128.10,295.39 128.30,295.39 128.50,295.39 128.70,295.40 128.90,295.40 129.10,295.40 129.30,295.40" fill="none" stroke="#a0163c" stroke-width="1.7" stroke-linejoin="round"/>
<rect x="94.20" y="256.00" width="3.40" height="15.00" fill="#a0163c"/>
<line x1="168.40" y1="183.00" x2="168.40" y2="300.10" stroke="#111" stroke-width="1.6"/>
<line x1="167.60" y1="299.40" x2="257.50" y2="299.40" stroke="#111" stroke-width="1.4"/>
<line x1="166.80" y1="292.76" x2="168.40" y2="292.76" stroke="#111" stroke-width="0.8"/>
<line x1="166.80" y1="289.21" x2="168.40" y2="289.21" stroke="#111" stroke-width="0.8"/>
<line x1="166.80" y1="285.67" x2="168.40" y2="285.67" stroke="#111" stroke-width="0.8"/>
<line x1="166.80" y1="282.13" x2="168.40" y2="282.13" stroke="#111" stroke-width="0.8"/>
<line x1="166.80" y1="278.58" x2="168.40" y2="278.58" stroke="#111" stroke-width="0.8"/>
<line x1="166.80" y1="275.04" x2="168.40" y2="275.04" stroke="#111" stroke-width="0.8"/>
<line x1="166.80" y1="271.50" x2="168.40" y2="271.50" stroke="#111" stroke-width="0.8"/>
<line x1="166.80" y1="267.95" x2="168.40" y2="267.95" stroke="#111" stroke-width="0.8"/>
<line x1="166.80" y1="264.41" x2="168.40" y2="264.41" stroke="#111" stroke-width="0.8"/>
<line x1="166.80" y1="257.32" x2="168.40" y2="257.32" stroke="#111" stroke-width="0.8"/>
<line x1="166.80" y1="253.78" x2="168.40" y2="253.78" stroke="#111" stroke-width="0.8"/>
<line x1="166.80" y1="250.24" x2="168.40" y2="250.24" stroke="#111" stroke-width="0.8"/>
<line x1="166.80" y1="246.69" x2="168.40" y2="246.69" stroke="#111" stroke-width="0.8"/>
<line x1="166.80" y1="243.15" x2="168.40" y2="243.15" stroke="#111" stroke-width="0.8"/>
<line x1="166.80" y1="239.61" x2="168.40" y2="239.61" stroke="#111" stroke-width="0.8"/>
<line x1="166.80" y1="236.06" x2="168.40" y2="236.06" stroke="#111" stroke-width="0.8"/>
<line x1="166.80" y1="232.52" x2="168.40" y2="232.52" stroke="#111" stroke-width="0.8"/>
<line x1="166.80" y1="228.98" x2="168.40" y2="228.98" stroke="#111" stroke-width="0.8"/>
<line x1="166.80" y1="221.89" x2="168.40" y2="221.89" stroke="#111" stroke-width="0.8"/>
<line x1="166.80" y1="218.35" x2="168.40" y2="218.35" stroke="#111" stroke-width="0.8"/>
<line x1="166.80" y1="214.80" x2="168.40" y2="214.80" stroke="#111" stroke-width="0.8"/>
<line x1="166.80" y1="211.26" x2="168.40" y2="211.26" stroke="#111" stroke-width="0.8"/>
<line x1="166.80" y1="207.72" x2="168.40" y2="207.72" stroke="#111" stroke-width="0.8"/>
<line x1="166.80" y1="204.17" x2="168.40" y2="204.17" stroke="#111" stroke-width="0.8"/>
<line x1="166.80" y1="200.63" x2="168.40" y2="200.63" stroke="#111" stroke-width="0.8"/>
<line x1="166.80" y1="197.09" x2="168.40" y2="197.09" stroke="#111" stroke-width="0.8"/>
<line x1="166.80" y1="193.54" x2="168.40" y2="193.54" stroke="#111" stroke-width="0.8"/>
<line x1="166.80" y1="186.46" x2="168.40" y2="186.46" stroke="#111" stroke-width="0.8"/>
<line x1="165.20" y1="296.30" x2="168.40" y2="296.30" stroke="#111" stroke-width="1.0"/>
<text x="163.00" y="299.05" font-size="7.6" fill="#303030" text-anchor="end" textLength="16.60" lengthAdjust="spacingAndGlyphs">0.00</text>
<line x1="165.20" y1="260.90" x2="168.40" y2="260.90" stroke="#111" stroke-width="1.0"/>
<text x="163.00" y="263.65" font-size="7.6" fill="#303030" text-anchor="end" textLength="16.60" lengthAdjust="spacingAndGlyphs">0.02</text>
<line x1="165.20" y1="225.40" x2="168.40" y2="225.40" stroke="#111" stroke-width="1.0"/>
<text x="163.00" y="228.15" font-size="7.6" fill="#303030" text-anchor="end" textLength="16.60" lengthAdjust="spacingAndGlyphs">0.04</text>
<line x1="165.20" y1="190.00" x2="168.40" y2="190.00" stroke="#111" stroke-width="1.0"/>
<text x="163.00" y="192.75" font-size="7.6" fill="#303030" text-anchor="end" textLength="16.60" lengthAdjust="spacingAndGlyphs">0.06</text>
<line x1="172.00" y1="299.40" x2="172.00" y2="301.10" stroke="#111" stroke-width="0.8"/>
<line x1="176.00" y1="299.40" x2="176.00" y2="301.10" stroke="#111" stroke-width="0.8"/>
<line x1="180.00" y1="299.40" x2="180.00" y2="301.10" stroke="#111" stroke-width="0.8"/>
<line x1="184.00" y1="299.40" x2="184.00" y2="301.10" stroke="#111" stroke-width="0.8"/>
<line x1="188.00" y1="299.40" x2="188.00" y2="302.40" stroke="#111" stroke-width="1.0"/>
<line x1="192.00" y1="299.40" x2="192.00" y2="301.10" stroke="#111" stroke-width="0.8"/>
<line x1="196.00" y1="299.40" x2="196.00" y2="301.10" stroke="#111" stroke-width="0.8"/>
<line x1="200.00" y1="299.40" x2="200.00" y2="301.10" stroke="#111" stroke-width="0.8"/>
<line x1="204.00" y1="299.40" x2="204.00" y2="301.10" stroke="#111" stroke-width="0.8"/>
<line x1="208.00" y1="299.40" x2="208.00" y2="302.40" stroke="#111" stroke-width="1.0"/>
<line x1="212.00" y1="299.40" x2="212.00" y2="301.10" stroke="#111" stroke-width="0.8"/>
<line x1="216.00" y1="299.40" x2="216.00" y2="301.10" stroke="#111" stroke-width="0.8"/>
<line x1="220.00" y1="299.40" x2="220.00" y2="301.10" stroke="#111" stroke-width="0.8"/>
<line x1="224.00" y1="299.40" x2="224.00" y2="301.10" stroke="#111" stroke-width="0.8"/>
<line x1="228.00" y1="299.40" x2="228.00" y2="302.40" stroke="#111" stroke-width="1.0"/>
<line x1="232.00" y1="299.40" x2="232.00" y2="301.10" stroke="#111" stroke-width="0.8"/>
<line x1="236.00" y1="299.40" x2="236.00" y2="301.10" stroke="#111" stroke-width="0.8"/>
<line x1="240.00" y1="299.40" x2="240.00" y2="301.10" stroke="#111" stroke-width="0.8"/>
<line x1="244.00" y1="299.40" x2="244.00" y2="301.10" stroke="#111" stroke-width="0.8"/>
<line x1="248.00" y1="299.40" x2="248.00" y2="302.40" stroke="#111" stroke-width="1.0"/>
<line x1="252.00" y1="299.40" x2="252.00" y2="301.10" stroke="#111" stroke-width="0.8"/>
<line x1="256.00" y1="299.40" x2="256.00" y2="301.10" stroke="#111" stroke-width="0.8"/>
<text x="187.80" y="312.30" font-size="7.6" fill="#303030" text-anchor="middle" textLength="11.00" lengthAdjust="spacingAndGlyphs">2.5</text>
<text x="207.80" y="312.30" font-size="7.6" fill="#303030" text-anchor="middle" textLength="11.00" lengthAdjust="spacingAndGlyphs">5.0</text>
<text x="227.80" y="312.30" font-size="7.6" fill="#303030" text-anchor="middle" textLength="11.00" lengthAdjust="spacingAndGlyphs">7.5</text>
<text x="248.40" y="312.30" font-size="7.6" fill="#303030" text-anchor="middle" textLength="15.00" lengthAdjust="spacingAndGlyphs">10.0</text>
<text x="141.30" y="241.90" font-size="8.4" fill="#303030" text-anchor="middle" textLength="13.20" lengthAdjust="spacingAndGlyphs" transform="rotate(-90 141.30 241.90)">Volt</text>
<text x="213.55" y="189.05" font-size="7.7" fill="#303030" text-anchor="middle" textLength="30.80" lengthAdjust="spacingAndGlyphs">Met+HU</text>
<text x="185.50" y="221.35" font-size="7.4" fill="#303030" textLength="40.25" lengthAdjust="spacingAndGlyphs">HbA: 54.0%</text>
<text x="172.50" y="253.85" font-size="7.4" fill="#303030" textLength="38.75" lengthAdjust="spacingAndGlyphs">HbF: 46.0%</text>
<text x="220.90" y="245.70" font-size="5.6" fill="#303030" textLength="9.40" lengthAdjust="spacingAndGlyphs" transform="rotate(-90 220.90 245.70)">HbF</text>
<text x="234.20" y="240.50" font-size="5.6" fill="#303030" textLength="9.30" lengthAdjust="spacingAndGlyphs" transform="rotate(-90 234.20 240.50)">HbA</text>
<text x="213.50" y="326.10" font-size="9.6" fill="#303030" text-anchor="middle" textLength="27.50" lengthAdjust="spacingAndGlyphs">Minutes</text>
<polyline points="169.00,296.30 169.20,296.28 169.40,296.26 169.60,296.24 169.80,296.22 170.00,296.20 170.20,296.18 170.40,296.16 170.60,296.14 170.80,296.12 171.00,296.10 171.20,296.08 171.40,296.06 171.60,296.04 171.80,296.02 172.00,296.00 172.20,295.96 172.40,295.93 172.60,295.89 172.80,295.85 173.00,295.81 173.20,295.78 173.40,295.74 173.60,295.70 173.80,295.66 174.00,295.63 174.20,295.59 174.40,295.55 174.60,295.51 174.80,295.47 175.00,295.44 175.20,295.40 175.40,295.36 175.60,295.32 175.80,295.20 176.00,294.67 176.20,292.75 176.40,288.48 176.60,283.47 176.80,282.06 177.00,285.72 177.20,290.73 177.40,293.72 177.60,294.70 177.80,294.86 178.00,294.80 178.20,294.63 178.40,294.30 178.60,293.69 178.80,292.70 179.00,291.32 179.20,289.71 179.40,288.24 179.60,287.33 179.80,287.29 180.00,288.12 180.20,289.56 180.40,291.13 180.60,292.48 180.80,293.43 181.00,294.00 181.20,294.30 181.40,294.43 181.60,294.48 181.80,294.49 182.00,294.50 182.20,294.50 182.40,294.50 182.60,294.50 182.80,294.50 183.00,294.50 183.20,294.50 183.40,294.50 183.60,294.50 183.80,294.49 184.00,294.48 184.20,294.46 184.40,294.41 184.60,294.30 184.80,294.10 185.00,293.74 185.20,293.14 185.40,292.22 185.60,290.90 185.80,289.15 186.00,287.02 186.20,284.66 186.40,282.32 186.60,280.32 186.80,278.96 187.00,278.47 187.20,278.94 187.40,280.26 187.60,282.18 187.80,284.32 188.00,286.26 188.20,287.61 188.40,288.04 188.60,287.35 188.80,285.52 189.00,282.79 189.20,279.65 189.40,276.75 189.60,274.73 189.80,274.01 190.00,274.64 190.20,276.31 190.40,278.51 190.60,280.73 190.80,282.62 191.00,284.08 191.20,285.17 191.40,286.05 191.60,286.86 191.80,287.70 192.00,288.61 192.20,289.55 192.40,290.49 192.60,291.36 192.80,292.14 193.00,292.78 193.20,293.30 193.40,293.69 193.60,293.98 193.80,294.17 194.00,294.30 194.20,294.39 194.40,294.44 194.60,294.47 194.80,294.48 195.00,294.49 195.20,294.50 195.40,294.50 195.60,294.50 195.80,294.50 196.00,294.50 196.20,294.50 196.40,294.50 196.60,294.50 196.80,294.50 197.00,294.50 197.20,294.50 197.40,294.50 197.60,294.50 197.80,294.50 198.00,294.50 198.20,294.50 198.40,294.50 198.60,294.50 198.80,294.50 199.00,294.50 199.20,294.50 199.40,294.50 199.60,294.50 199.80,294.50 200.00,294.50 200.20,294.50 200.40,294.50 200.60,294.50 200.80,294.50 201.00,294.50 201.20,294.50 201.40,294.50 201.60,294.50 201.80,294.50 202.00,294.50 202.20,294.50 202.40,294.50 202.60,294.50 202.80,294.50 203.00,294.50 203.20,294.50 203.40,294.50 203.60,294.50 203.80,294.50 204.00,294.50 204.20,294.50 204.40,294.50 204.60,294.50 204.80,294.50 205.00,294.50 205.20,294.50 205.40,294.50 205.60,294.50 205.80,294.50 206.00,294.50 206.20,294.50 206.40,294.50 206.60,294.50 206.80,294.50 207.00,294.50 207.20,294.50 207.40,294.50 207.60,294.50 207.80,294.50 208.00,294.50 208.20,294.50 208.40,294.50 208.60,294.50 208.80,294.50 209.00,294.50 209.20,294.50 209.40,294.50 209.60,294.50 209.80,294.50 210.00,294.50 210.20,294.50 210.40,294.51 210.60,294.51 210.80,294.51 211.00,294.50 211.20,294.45 211.40,294.29 211.60,293.89 211.80,293.06 212.00,291.55 212.20,289.23 212.40,286.25 212.60,283.13 212.80,280.72 213.00,279.81 213.20,280.73 213.40,283.15 213.60,286.28 213.80,289.27 214.00,291.59 214.20,293.06 214.40,293.73 214.60,293.63 214.80,292.53 215.00,290.07 215.20,286.09 215.40,281.21 215.60,277.02 215.80,275.35 216.00,277.00 216.20,281.15 216.40,285.94 216.60,289.75 216.80,291.90 217.00,292.50 217.20,291.88 217.40,290.27 217.60,287.67 217.80,283.99 218.00,279.21 218.20,273.43 218.40,267.00 218.60,260.49 218.80,254.61 219.00,250.15 219.20,247.73 219.40,247.74 219.60,250.16 219.80,254.64 220.00,260.52 220.20,267.05 220.40,273.49 220.60,279.27 220.80,284.07 221.00,287.76 221.20,290.42 221.40,292.20 221.60,293.32 221.80,293.97 222.00,294.29 222.20,294.37 222.40,294.25 222.60,293.92 222.80,293.33 223.00,292.38 223.20,291.00 223.40,289.08 223.60,286.57 223.80,283.49 224.00,279.95 224.20,276.16 224.40,272.43 224.60,269.13 224.80,266.59 225.00,265.06 225.20,264.64 225.40,265.21 225.60,266.47 225.80,267.99 226.00,269.31 226.20,270.10 226.40,270.19 226.60,269.68 226.80,268.86 227.00,268.08 227.20,267.62 227.40,267.55 227.60,267.70 227.80,267.71 228.00,267.21 228.20,265.98 228.40,264.14 228.60,262.08 228.80,260.44 229.00,259.85 229.20,260.74 229.40,263.21 229.60,266.89 229.80,271.08 230.00,274.86 230.20,277.39 230.40,278.22 230.60,277.51 230.80,275.73 231.00,273.26 231.20,269.95 231.40,265.37 231.60,259.45 231.80,252.93 232.00,247.27 232.20,243.95 232.40,243.78 232.60,246.55 232.80,251.22 233.00,256.44 233.20,261.11 233.40,264.75 233.60,267.48 233.80,269.78 234.00,272.15 234.20,274.92 234.40,278.11 234.60,281.52 234.80,284.84 235.00,287.80 235.20,290.22 235.40,292.05 235.60,293.32 235.80,294.15 236.00,294.65 236.20,294.93 236.40,295.09 236.60,295.16 236.80,295.20 237.00,295.22 237.20,295.24 237.40,295.25 237.60,295.25 237.80,295.26 238.00,295.27 238.20,295.27 238.40,295.28 238.60,295.29 238.80,295.29 239.00,295.30 239.20,295.30 239.40,295.30 239.60,295.29 239.80,295.25 240.00,295.17 240.20,295.03 240.40,294.81 240.60,294.52 240.80,294.19 241.00,293.87 241.20,293.65 241.40,293.59 241.60,293.70 241.80,293.96 242.00,294.30 242.20,294.64 242.40,294.93 242.60,295.15 242.80,295.29 243.00,295.37 243.20,295.41 243.40,295.44 243.60,295.45 243.80,295.46 244.00,295.47 244.20,295.47 244.40,295.48 244.60,295.49 244.80,295.49 245.00,295.50 245.20,295.51 245.40,295.51 245.60,295.52 245.80,295.53 246.00,295.53 246.20,295.54 246.40,295.55 246.60,295.55 246.80,295.56 247.00,295.57 247.20,295.57 247.40,295.58 247.60,295.59 247.80,295.59 248.00,295.60 248.20,295.61 248.40,295.61 248.60,295.62 248.80,295.63 249.00,295.63 249.20,295.64 249.40,295.65 249.60,295.65 249.80,295.66 250.00,295.67 250.20,295.67 250.40,295.68 250.60,295.69 250.80,295.69 251.00,295.70 251.20,295.71 251.40,295.71 251.60,295.72 251.80,295.73 252.00,295.73 252.20,295.74 252.40,295.75 252.60,295.75 252.80,295.76 253.00,295.77 253.20,295.77 253.40,295.78 253.60,295.79 253.80,295.79 254.00,295.80 254.20,295.81 254.40,295.81 254.60,295.82 254.80,295.83 255.00,295.83 255.20,295.84 255.40,295.85 255.60,295.85 255.80,295.86 256.00,295.87 256.20,295.87 256.40,295.88 256.60,295.89 256.80,295.89 257.00,295.90" fill="none" stroke="#a0163c" stroke-width="1.7" stroke-linejoin="round"/>
<rect x="225.60" y="264.50" width="4.00" height="9.50" fill="#a0163c"/>
<rect x="213.20" y="279.50" width="3.40" height="5.50" fill="#a0163c"/>
<line x1="295.30" y1="35.50" x2="295.30" y2="155.70" stroke="#111" stroke-width="1.6"/>
<line x1="294.50" y1="155.00" x2="384.00" y2="155.00" stroke="#111" stroke-width="1.4"/>
<line x1="293.70" y1="150.44" x2="295.30" y2="150.44" stroke="#111" stroke-width="0.8"/>
<line x1="293.70" y1="147.87" x2="295.30" y2="147.87" stroke="#111" stroke-width="0.8"/>
<line x1="293.70" y1="145.31" x2="295.30" y2="145.31" stroke="#111" stroke-width="0.8"/>
<line x1="293.70" y1="142.74" x2="295.30" y2="142.74" stroke="#111" stroke-width="0.8"/>
<line x1="293.70" y1="140.18" x2="295.30" y2="140.18" stroke="#111" stroke-width="0.8"/>
<line x1="293.70" y1="137.61" x2="295.30" y2="137.61" stroke="#111" stroke-width="0.8"/>
<line x1="293.70" y1="135.05" x2="295.30" y2="135.05" stroke="#111" stroke-width="0.8"/>
<line x1="293.70" y1="132.48" x2="295.30" y2="132.48" stroke="#111" stroke-width="0.8"/>
<line x1="293.70" y1="129.91" x2="295.30" y2="129.91" stroke="#111" stroke-width="0.8"/>
<line x1="293.70" y1="124.78" x2="295.30" y2="124.78" stroke="#111" stroke-width="0.8"/>
<line x1="293.70" y1="122.22" x2="295.30" y2="122.22" stroke="#111" stroke-width="0.8"/>
<line x1="293.70" y1="119.66" x2="295.30" y2="119.66" stroke="#111" stroke-width="0.8"/>
<line x1="293.70" y1="117.09" x2="295.30" y2="117.09" stroke="#111" stroke-width="0.8"/>
<line x1="293.70" y1="114.53" x2="295.30" y2="114.53" stroke="#111" stroke-width="0.8"/>
<line x1="293.70" y1="111.96" x2="295.30" y2="111.96" stroke="#111" stroke-width="0.8"/>
<line x1="293.70" y1="109.40" x2="295.30" y2="109.40" stroke="#111" stroke-width="0.8"/>
<line x1="293.70" y1="106.83" x2="295.30" y2="106.83" stroke="#111" stroke-width="0.8"/>
<line x1="293.70" y1="104.27" x2="295.30" y2="104.27" stroke="#111" stroke-width="0.8"/>
<line x1="293.70" y1="99.13" x2="295.30" y2="99.13" stroke="#111" stroke-width="0.8"/>
<line x1="293.70" y1="96.57" x2="295.30" y2="96.57" stroke="#111" stroke-width="0.8"/>
<line x1="293.70" y1="94.00" x2="295.30" y2="94.00" stroke="#111" stroke-width="0.8"/>
<line x1="293.70" y1="91.44" x2="295.30" y2="91.44" stroke="#111" stroke-width="0.8"/>
<line x1="293.70" y1="88.88" x2="295.30" y2="88.88" stroke="#111" stroke-width="0.8"/>
<line x1="293.70" y1="86.31" x2="295.30" y2="86.31" stroke="#111" stroke-width="0.8"/>
<line x1="293.70" y1="83.75" x2="295.30" y2="83.75" stroke="#111" stroke-width="0.8"/>
<line x1="293.70" y1="81.18" x2="295.30" y2="81.18" stroke="#111" stroke-width="0.8"/>
<line x1="293.70" y1="78.61" x2="295.30" y2="78.61" stroke="#111" stroke-width="0.8"/>
<line x1="293.70" y1="73.48" x2="295.30" y2="73.48" stroke="#111" stroke-width="0.8"/>
<line x1="293.70" y1="70.92" x2="295.30" y2="70.92" stroke="#111" stroke-width="0.8"/>
<line x1="293.70" y1="68.36" x2="295.30" y2="68.36" stroke="#111" stroke-width="0.8"/>
<line x1="293.70" y1="65.79" x2="295.30" y2="65.79" stroke="#111" stroke-width="0.8"/>
<line x1="293.70" y1="63.23" x2="295.30" y2="63.23" stroke="#111" stroke-width="0.8"/>
<line x1="293.70" y1="60.66" x2="295.30" y2="60.66" stroke="#111" stroke-width="0.8"/>
<line x1="293.70" y1="58.09" x2="295.30" y2="58.09" stroke="#111" stroke-width="0.8"/>
<line x1="293.70" y1="55.53" x2="295.30" y2="55.53" stroke="#111" stroke-width="0.8"/>
<line x1="293.70" y1="52.97" x2="295.30" y2="52.97" stroke="#111" stroke-width="0.8"/>
<line x1="293.70" y1="47.84" x2="295.30" y2="47.84" stroke="#111" stroke-width="0.8"/>
<line x1="293.70" y1="45.27" x2="295.30" y2="45.27" stroke="#111" stroke-width="0.8"/>
<line x1="293.70" y1="42.70" x2="295.30" y2="42.70" stroke="#111" stroke-width="0.8"/>
<line x1="293.70" y1="40.14" x2="295.30" y2="40.14" stroke="#111" stroke-width="0.8"/>
<line x1="293.70" y1="37.58" x2="295.30" y2="37.58" stroke="#111" stroke-width="0.8"/>
<line x1="292.10" y1="153.00" x2="295.30" y2="153.00" stroke="#111" stroke-width="1.0"/>
<text x="289.90" y="155.75" font-size="7.6" fill="#303030" text-anchor="end" textLength="16.60" lengthAdjust="spacingAndGlyphs">0.00</text>
<line x1="292.10" y1="127.50" x2="295.30" y2="127.50" stroke="#111" stroke-width="1.0"/>
<text x="289.90" y="130.25" font-size="7.6" fill="#303030" text-anchor="end" textLength="16.60" lengthAdjust="spacingAndGlyphs">0.01</text>
<line x1="292.10" y1="102.00" x2="295.30" y2="102.00" stroke="#111" stroke-width="1.0"/>
<text x="289.90" y="104.75" font-size="7.6" fill="#303030" text-anchor="end" textLength="16.60" lengthAdjust="spacingAndGlyphs">0.02</text>
<line x1="292.10" y1="76.25" x2="295.30" y2="76.25" stroke="#111" stroke-width="1.0"/>
<text x="289.90" y="79.00" font-size="7.6" fill="#303030" text-anchor="end" textLength="16.60" lengthAdjust="spacingAndGlyphs">0.03</text>
<line x1="292.10" y1="50.40" x2="295.30" y2="50.40" stroke="#111" stroke-width="1.0"/>
<text x="289.90" y="53.15" font-size="7.6" fill="#303030" text-anchor="end" textLength="16.60" lengthAdjust="spacingAndGlyphs">0.04</text>
<line x1="299.70" y1="155.00" x2="299.70" y2="156.70" stroke="#111" stroke-width="0.8"/>
<line x1="303.40" y1="155.00" x2="303.40" y2="156.70" stroke="#111" stroke-width="0.8"/>
<line x1="307.10" y1="155.00" x2="307.10" y2="156.70" stroke="#111" stroke-width="0.8"/>
<line x1="310.80" y1="155.00" x2="310.80" y2="156.70" stroke="#111" stroke-width="0.8"/>
<line x1="314.50" y1="155.00" x2="314.50" y2="158.00" stroke="#111" stroke-width="1.0"/>
<line x1="318.20" y1="155.00" x2="318.20" y2="156.70" stroke="#111" stroke-width="0.8"/>
<line x1="321.90" y1="155.00" x2="321.90" y2="156.70" stroke="#111" stroke-width="0.8"/>
<line x1="325.60" y1="155.00" x2="325.60" y2="156.70" stroke="#111" stroke-width="0.8"/>
<line x1="329.30" y1="155.00" x2="329.30" y2="156.70" stroke="#111" stroke-width="0.8"/>
<line x1="333.00" y1="155.00" x2="333.00" y2="158.00" stroke="#111" stroke-width="1.0"/>
<line x1="336.70" y1="155.00" x2="336.70" y2="156.70" stroke="#111" stroke-width="0.8"/>
<line x1="340.40" y1="155.00" x2="340.40" y2="156.70" stroke="#111" stroke-width="0.8"/>
<line x1="344.10" y1="155.00" x2="344.10" y2="156.70" stroke="#111" stroke-width="0.8"/>
<line x1="347.80" y1="155.00" x2="347.80" y2="156.70" stroke="#111" stroke-width="0.8"/>
<line x1="351.50" y1="155.00" x2="351.50" y2="158.00" stroke="#111" stroke-width="1.0"/>
<line x1="355.20" y1="155.00" x2="355.20" y2="156.70" stroke="#111" stroke-width="0.8"/>
<line x1="358.90" y1="155.00" x2="358.90" y2="156.70" stroke="#111" stroke-width="0.8"/>
<line x1="362.60" y1="155.00" x2="362.60" y2="156.70" stroke="#111" stroke-width="0.8"/>
<line x1="366.30" y1="155.00" x2="366.30" y2="156.70" stroke="#111" stroke-width="0.8"/>
<line x1="370.00" y1="155.00" x2="370.00" y2="158.00" stroke="#111" stroke-width="1.0"/>
<line x1="373.70" y1="155.00" x2="373.70" y2="156.70" stroke="#111" stroke-width="0.8"/>
<line x1="377.40" y1="155.00" x2="377.40" y2="156.70" stroke="#111" stroke-width="0.8"/>
<line x1="381.10" y1="155.00" x2="381.10" y2="156.70" stroke="#111" stroke-width="0.8"/>
<text x="314.10" y="168.00" font-size="7.6" fill="#303030" text-anchor="middle" textLength="11.00" lengthAdjust="spacingAndGlyphs">2.5</text>
<text x="333.40" y="168.00" font-size="7.6" fill="#303030" text-anchor="middle" textLength="11.00" lengthAdjust="spacingAndGlyphs">5.0</text>
<text x="351.90" y="168.00" font-size="7.6" fill="#303030" text-anchor="middle" textLength="11.00" lengthAdjust="spacingAndGlyphs">7.5</text>
<text x="370.90" y="168.00" font-size="7.6" fill="#303030" text-anchor="middle" textLength="15.00" lengthAdjust="spacingAndGlyphs">10.0</text>
<text x="269.00" y="95.20" font-size="8.4" fill="#303030" text-anchor="middle" textLength="13.20" lengthAdjust="spacingAndGlyphs" transform="rotate(-90 269.00 95.20)">Volt</text>
<text x="340.50" y="38.30" font-size="8.2" fill="#303030" text-anchor="middle" textLength="27.00" lengthAdjust="spacingAndGlyphs">Control</text>
<text x="321.25" y="75.10" font-size="7.4" fill="#303030" textLength="32.50" lengthAdjust="spacingAndGlyphs">HbS: 82%</text>
<text x="297.50" y="113.35" font-size="7.4" fill="#303030" textLength="33.75" lengthAdjust="spacingAndGlyphs">HbF: 18%</text>
<text x="340.90" y="140.70" font-size="5.6" fill="#303030" textLength="9.20" lengthAdjust="spacingAndGlyphs" transform="rotate(-90 340.90 140.70)">HbF</text>
<text x="367.50" y="77.60" font-size="5.6" fill="#303030" textLength="9.80" lengthAdjust="spacingAndGlyphs" transform="rotate(-90 367.50 77.60)">HbS</text>
<polyline points="295.90,153.20 296.10,153.20 296.30,153.20 296.50,153.20 296.70,153.20 296.90,153.20 297.10,153.20 297.30,153.20 297.50,153.20 297.70,153.20 297.90,153.20 298.10,153.20 298.30,153.19 298.50,153.19 298.70,153.19 298.90,153.19 299.10,153.19 299.30,153.19 299.50,153.19 299.70,153.19 299.90,153.19 300.10,153.19 300.30,153.19 300.50,153.19 300.70,153.19 300.90,153.19 301.10,153.19 301.30,153.18 301.50,153.17 301.70,153.11 301.90,152.92 302.10,152.41 302.30,151.29 302.50,149.40 302.70,146.99 302.90,144.85 303.10,143.98 303.30,144.85 303.50,146.99 303.70,149.40 303.90,151.29 304.10,152.40 304.30,152.92 304.50,153.11 304.70,153.16 304.90,153.18 305.10,153.18 305.30,153.18 305.50,153.18 305.70,153.18 305.90,153.18 306.10,153.18 306.30,153.17 306.50,153.16 306.70,153.13 306.90,153.07 307.10,152.95 307.30,152.73 307.50,152.39 307.70,151.96 307.90,151.48 308.10,151.05 308.30,150.81 308.50,150.80 308.70,151.05 308.90,151.47 309.10,151.96 309.30,152.39 309.50,152.72 309.70,152.94 309.90,153.06 310.10,153.12 310.30,153.14 310.50,153.14 310.70,153.12 310.90,153.07 311.10,152.97 311.30,152.81 311.50,152.57 311.70,152.23 311.90,151.81 312.10,151.36 312.30,150.95 312.50,150.67 312.70,150.56 312.90,150.67 313.10,150.95 313.30,151.36 313.50,151.81 313.70,152.22 313.90,152.56 314.10,152.81 314.30,152.97 314.50,153.06 314.70,153.11 314.90,153.14 315.10,153.15 315.30,153.15 315.50,153.15 315.70,153.15 315.90,153.15 316.10,153.15 316.30,153.15 316.50,153.15 316.70,153.15 316.90,153.15 317.10,153.15 317.30,153.15 317.50,153.15 317.70,153.15 317.90,153.15 318.10,153.15 318.30,153.15 318.50,153.15 318.70,153.15 318.90,153.15 319.10,153.15 319.30,153.15 319.50,153.15 319.70,153.15 319.90,153.15 320.10,153.15 320.30,153.14 320.50,153.14 320.70,153.14 320.90,153.14 321.10,153.14 321.30,153.14 321.50,153.14 321.70,153.14 321.90,153.14 322.10,153.14 322.30,153.14 322.50,153.14 322.70,153.14 322.90,153.14 323.10,153.14 323.30,153.14 323.50,153.14 323.70,153.14 323.90,153.14 324.10,153.14 324.30,153.14 324.50,153.14 324.70,153.13 324.90,153.13 325.10,153.13 325.30,153.13 325.50,153.13 325.70,153.13 325.90,153.13 326.10,153.13 326.30,153.13 326.50,153.13 326.70,153.13 326.90,153.13 327.10,153.13 327.30,153.13 327.50,153.13 327.70,153.13 327.90,153.13 328.10,153.13 328.30,153.13 328.50,153.13 328.70,153.13 328.90,153.13 329.10,153.12 329.30,153.12 329.50,153.12 329.70,153.12 329.90,153.12 330.10,153.12 330.30,153.12 330.50,153.12 330.70,153.12 330.90,153.12 331.10,153.12 331.30,153.12 331.50,153.12 331.70,153.12 331.90,153.12 332.10,153.12 332.30,153.12 332.50,153.12 332.70,153.12 332.90,153.12 333.10,153.12 333.30,153.12 333.50,153.11 333.70,153.11 333.90,153.11 334.10,153.11 334.30,153.11 334.50,153.10 334.70,153.10 334.90,153.08 335.10,153.05 335.30,153.01 335.50,152.94 335.70,152.83 335.90,152.67 336.10,152.43 336.30,152.10 336.50,151.65 336.70,151.08 336.90,150.38 337.10,149.55 337.30,148.63 337.50,147.65 337.70,146.67 337.90,145.75 338.10,144.99 338.30,144.43 338.50,144.14 338.70,144.14 338.90,144.43 339.10,144.99 339.30,145.75 339.50,146.66 339.70,147.64 339.90,148.62 340.10,149.55 340.30,150.37 340.50,151.07 340.70,151.64 340.90,152.09 341.10,152.42 341.30,152.65 341.50,152.82 341.70,152.93 341.90,153.00 342.10,153.04 342.30,153.06 342.50,153.08 342.70,153.09 342.90,153.09 343.10,153.09 343.30,153.09 343.50,153.09 343.70,153.09 343.90,153.09 344.10,153.09 344.30,153.09 344.50,153.09 344.70,153.09 344.90,153.09 345.10,153.09 345.30,153.09 345.50,153.09 345.70,153.09 345.90,153.09 346.10,153.09 346.30,153.09 346.50,153.08 346.70,153.08 346.90,153.08 347.10,153.08 347.30,153.07 347.50,153.05 347.70,153.02 347.90,152.96 348.10,152.88 348.30,152.76 348.50,152.59 348.70,152.39 348.90,152.17 349.10,151.95 349.30,151.76 349.50,151.62 349.70,151.58 349.90,151.62 350.10,151.75 350.30,151.94 350.50,152.17 350.70,152.39 350.90,152.59 351.10,152.75 351.30,152.87 351.50,152.95 351.70,153.01 351.90,153.03 352.10,153.05 352.30,153.05 352.50,153.03 352.70,153.00 352.90,152.94 353.10,152.86 353.30,152.75 353.50,152.60 353.70,152.43 353.90,152.25 354.10,152.08 354.30,151.95 354.50,151.88 354.70,151.88 354.90,151.95 355.10,152.08 355.30,152.25 355.50,152.43 355.70,152.60 355.90,152.74 356.10,152.86 356.30,152.94 356.50,152.99 356.70,153.02 356.90,153.04 357.10,153.05 357.30,153.06 357.50,153.06 357.70,153.05 357.90,153.04 358.10,153.02 358.30,152.97 358.50,152.87 358.70,152.69 358.90,152.37 359.10,151.85 359.30,151.07 359.50,149.98 359.70,148.59 359.90,146.95 360.10,145.21 360.30,143.59 360.50,142.33 360.70,141.64 360.90,141.64 361.10,142.33 361.30,143.59 361.50,145.21 361.70,146.94 361.90,148.58 362.10,149.96 362.30,151.03 362.50,151.75 362.70,152.15 362.90,152.21 363.10,151.89 363.30,151.07 363.50,149.53 363.70,146.99 363.90,143.09 364.10,137.55 364.30,130.22 364.50,121.23 364.70,111.08 364.90,100.68 365.10,91.22 365.30,83.98 365.50,80.05 365.70,80.05 365.90,83.98 366.10,91.22 366.30,100.68 366.50,111.08 366.70,121.23 366.90,130.22 367.10,137.55 367.30,143.09 367.50,146.99 367.70,149.56 367.90,151.15 368.10,152.06 368.30,152.56 368.50,152.82 368.70,152.94 368.90,153.00 369.10,153.02 369.30,153.03 369.50,153.03 369.70,153.03 369.90,153.03 370.10,153.03 370.30,153.03 370.50,153.03 370.70,153.03 370.90,153.03 371.10,153.03 371.30,153.03 371.50,153.03 371.70,153.03 371.90,153.03 372.10,153.03 372.30,153.03 372.50,153.03 372.70,153.03 372.90,153.03 373.10,153.02 373.30,153.02 373.50,153.02 373.70,153.02 373.90,153.02 374.10,153.02 374.30,153.02 374.50,153.02 374.70,153.02 374.90,153.02 375.10,153.02 375.30,153.02 375.50,153.02 375.70,153.02 375.90,153.02 376.10,153.02 376.30,153.02 376.50,153.02 376.70,153.02 376.90,153.02 377.10,153.02 377.30,153.02 377.50,153.01 377.70,153.01 377.90,153.01 378.10,153.01 378.30,153.01 378.50,153.01 378.70,153.01 378.90,153.01 379.10,153.01 379.30,153.01 379.50,153.01 379.70,153.01 379.90,153.01 380.10,153.01 380.30,153.01 380.50,153.01 380.70,153.01 380.90,153.01 381.10,153.01 381.30,153.01 381.50,153.01 381.70,153.01 381.90,153.00 382.10,153.00 382.30,153.00 382.50,153.00 382.70,153.00 382.90,153.00" fill="none" stroke="#a0163c" stroke-width="1.7" stroke-linejoin="round"/>
<line x1="423.30" y1="36.25" x2="423.30" y2="155.70" stroke="#111" stroke-width="1.6"/>
<line x1="422.50" y1="155.00" x2="512.50" y2="155.00" stroke="#111" stroke-width="1.4"/>
<line x1="421.70" y1="151.19" x2="423.30" y2="151.19" stroke="#111" stroke-width="0.8"/>
<line x1="421.70" y1="148.64" x2="423.30" y2="148.64" stroke="#111" stroke-width="0.8"/>
<line x1="421.70" y1="146.08" x2="423.30" y2="146.08" stroke="#111" stroke-width="0.8"/>
<line x1="421.70" y1="143.53" x2="423.30" y2="143.53" stroke="#111" stroke-width="0.8"/>
<line x1="421.70" y1="140.97" x2="423.30" y2="140.97" stroke="#111" stroke-width="0.8"/>
<line x1="421.70" y1="138.41" x2="423.30" y2="138.41" stroke="#111" stroke-width="0.8"/>
<line x1="421.70" y1="135.86" x2="423.30" y2="135.86" stroke="#111" stroke-width="0.8"/>
<line x1="421.70" y1="133.30" x2="423.30" y2="133.30" stroke="#111" stroke-width="0.8"/>
<line x1="421.70" y1="130.74" x2="423.30" y2="130.74" stroke="#111" stroke-width="0.8"/>
<line x1="421.70" y1="125.63" x2="423.30" y2="125.63" stroke="#111" stroke-width="0.8"/>
<line x1="421.70" y1="123.08" x2="423.30" y2="123.08" stroke="#111" stroke-width="0.8"/>
<line x1="421.70" y1="120.52" x2="423.30" y2="120.52" stroke="#111" stroke-width="0.8"/>
<line x1="421.70" y1="117.96" x2="423.30" y2="117.96" stroke="#111" stroke-width="0.8"/>
<line x1="421.70" y1="115.41" x2="423.30" y2="115.41" stroke="#111" stroke-width="0.8"/>
<line x1="421.70" y1="112.85" x2="423.30" y2="112.85" stroke="#111" stroke-width="0.8"/>
<line x1="421.70" y1="110.29" x2="423.30" y2="110.29" stroke="#111" stroke-width="0.8"/>
<line x1="421.70" y1="107.74" x2="423.30" y2="107.74" stroke="#111" stroke-width="0.8"/>
<line x1="421.70" y1="105.18" x2="423.30" y2="105.18" stroke="#111" stroke-width="0.8"/>
<line x1="421.70" y1="100.07" x2="423.30" y2="100.07" stroke="#111" stroke-width="0.8"/>
<line x1="421.70" y1="97.51" x2="423.30" y2="97.51" stroke="#111" stroke-width="0.8"/>
<line x1="421.70" y1="94.96" x2="423.30" y2="94.96" stroke="#111" stroke-width="0.8"/>
<line x1="421.70" y1="92.40" x2="423.30" y2="92.40" stroke="#111" stroke-width="0.8"/>
<line x1="421.70" y1="89.84" x2="423.30" y2="89.84" stroke="#111" stroke-width="0.8"/>
<line x1="421.70" y1="87.29" x2="423.30" y2="87.29" stroke="#111" stroke-width="0.8"/>
<line x1="421.70" y1="84.73" x2="423.30" y2="84.73" stroke="#111" stroke-width="0.8"/>
<line x1="421.70" y1="82.17" x2="423.30" y2="82.17" stroke="#111" stroke-width="0.8"/>
<line x1="421.70" y1="79.62" x2="423.30" y2="79.62" stroke="#111" stroke-width="0.8"/>
<line x1="421.70" y1="74.51" x2="423.30" y2="74.51" stroke="#111" stroke-width="0.8"/>
<line x1="421.70" y1="71.95" x2="423.30" y2="71.95" stroke="#111" stroke-width="0.8"/>
<line x1="421.70" y1="69.39" x2="423.30" y2="69.39" stroke="#111" stroke-width="0.8"/>
<line x1="421.70" y1="66.84" x2="423.30" y2="66.84" stroke="#111" stroke-width="0.8"/>
<line x1="421.70" y1="64.28" x2="423.30" y2="64.28" stroke="#111" stroke-width="0.8"/>
<line x1="421.70" y1="61.73" x2="423.30" y2="61.73" stroke="#111" stroke-width="0.8"/>
<line x1="421.70" y1="59.17" x2="423.30" y2="59.17" stroke="#111" stroke-width="0.8"/>
<line x1="421.70" y1="56.61" x2="423.30" y2="56.61" stroke="#111" stroke-width="0.8"/>
<line x1="421.70" y1="54.06" x2="423.30" y2="54.06" stroke="#111" stroke-width="0.8"/>
<line x1="421.70" y1="48.94" x2="423.30" y2="48.94" stroke="#111" stroke-width="0.8"/>
<line x1="421.70" y1="46.39" x2="423.30" y2="46.39" stroke="#111" stroke-width="0.8"/>
<line x1="421.70" y1="43.83" x2="423.30" y2="43.83" stroke="#111" stroke-width="0.8"/>
<line x1="421.70" y1="41.28" x2="423.30" y2="41.28" stroke="#111" stroke-width="0.8"/>
<line x1="421.70" y1="38.72" x2="423.30" y2="38.72" stroke="#111" stroke-width="0.8"/>
<line x1="420.10" y1="153.75" x2="423.30" y2="153.75" stroke="#111" stroke-width="1.0"/>
<text x="417.90" y="156.50" font-size="7.6" fill="#303030" text-anchor="end" textLength="16.60" lengthAdjust="spacingAndGlyphs">0.00</text>
<line x1="420.10" y1="128.25" x2="423.30" y2="128.25" stroke="#111" stroke-width="1.0"/>
<text x="417.90" y="131.00" font-size="7.6" fill="#303030" text-anchor="end" textLength="16.60" lengthAdjust="spacingAndGlyphs">0.01</text>
<line x1="420.10" y1="103.00" x2="423.30" y2="103.00" stroke="#111" stroke-width="1.0"/>
<text x="417.90" y="105.75" font-size="7.6" fill="#303030" text-anchor="end" textLength="16.60" lengthAdjust="spacingAndGlyphs">0.02</text>
<line x1="420.10" y1="76.75" x2="423.30" y2="76.75" stroke="#111" stroke-width="1.0"/>
<text x="417.90" y="79.50" font-size="7.6" fill="#303030" text-anchor="end" textLength="16.60" lengthAdjust="spacingAndGlyphs">0.03</text>
<line x1="420.10" y1="51.50" x2="423.30" y2="51.50" stroke="#111" stroke-width="1.0"/>
<text x="417.90" y="54.25" font-size="7.6" fill="#303030" text-anchor="end" textLength="16.60" lengthAdjust="spacingAndGlyphs">0.04</text>
<line x1="427.02" y1="155.00" x2="427.02" y2="156.70" stroke="#111" stroke-width="0.8"/>
<line x1="430.80" y1="155.00" x2="430.80" y2="156.70" stroke="#111" stroke-width="0.8"/>
<line x1="434.57" y1="155.00" x2="434.57" y2="156.70" stroke="#111" stroke-width="0.8"/>
<line x1="438.35" y1="155.00" x2="438.35" y2="156.70" stroke="#111" stroke-width="0.8"/>
<line x1="442.12" y1="155.00" x2="442.12" y2="158.00" stroke="#111" stroke-width="1.0"/>
<line x1="445.90" y1="155.00" x2="445.90" y2="156.70" stroke="#111" stroke-width="0.8"/>
<line x1="449.68" y1="155.00" x2="449.68" y2="156.70" stroke="#111" stroke-width="0.8"/>
<line x1="453.45" y1="155.00" x2="453.45" y2="156.70" stroke="#111" stroke-width="0.8"/>
<line x1="457.23" y1="155.00" x2="457.23" y2="156.70" stroke="#111" stroke-width="0.8"/>
<line x1="461.00" y1="155.00" x2="461.00" y2="158.00" stroke="#111" stroke-width="1.0"/>
<line x1="464.77" y1="155.00" x2="464.77" y2="156.70" stroke="#111" stroke-width="0.8"/>
<line x1="468.55" y1="155.00" x2="468.55" y2="156.70" stroke="#111" stroke-width="0.8"/>
<line x1="472.32" y1="155.00" x2="472.32" y2="156.70" stroke="#111" stroke-width="0.8"/>
<line x1="476.10" y1="155.00" x2="476.10" y2="156.70" stroke="#111" stroke-width="0.8"/>
<line x1="479.88" y1="155.00" x2="479.88" y2="158.00" stroke="#111" stroke-width="1.0"/>
<line x1="483.65" y1="155.00" x2="483.65" y2="156.70" stroke="#111" stroke-width="0.8"/>
<line x1="487.43" y1="155.00" x2="487.43" y2="156.70" stroke="#111" stroke-width="0.8"/>
<line x1="491.20" y1="155.00" x2="491.20" y2="156.70" stroke="#111" stroke-width="0.8"/>
<line x1="494.98" y1="155.00" x2="494.98" y2="156.70" stroke="#111" stroke-width="0.8"/>
<line x1="498.75" y1="155.00" x2="498.75" y2="158.00" stroke="#111" stroke-width="1.0"/>
<line x1="502.52" y1="155.00" x2="502.52" y2="156.70" stroke="#111" stroke-width="0.8"/>
<line x1="506.30" y1="155.00" x2="506.30" y2="156.70" stroke="#111" stroke-width="0.8"/>
<line x1="510.07" y1="155.00" x2="510.07" y2="156.70" stroke="#111" stroke-width="0.8"/>
<text x="423.30" y="168.00" font-size="7.6" fill="#303030" text-anchor="middle" textLength="11.00" lengthAdjust="spacingAndGlyphs">0.0</text>
<text x="442.60" y="168.00" font-size="7.6" fill="#303030" text-anchor="middle" textLength="11.00" lengthAdjust="spacingAndGlyphs">2.5</text>
<text x="461.40" y="168.00" font-size="7.6" fill="#303030" text-anchor="middle" textLength="11.00" lengthAdjust="spacingAndGlyphs">5.0</text>
<text x="479.80" y="168.00" font-size="7.6" fill="#303030" text-anchor="middle" textLength="11.00" lengthAdjust="spacingAndGlyphs">7.5</text>
<text x="499.40" y="168.00" font-size="7.6" fill="#303030" text-anchor="middle" textLength="15.00" lengthAdjust="spacingAndGlyphs">10.0</text>
<text x="397.00" y="95.80" font-size="8.4" fill="#303030" text-anchor="middle" textLength="13.20" lengthAdjust="spacingAndGlyphs" transform="rotate(-90 397.00 95.80)">Volt</text>
<text x="468.75" y="37.80" font-size="8.2" fill="#303030" text-anchor="middle" textLength="14.00" lengthAdjust="spacingAndGlyphs">Met</text>
<text x="453.75" y="75.10" font-size="7.4" fill="#303030" textLength="32.00" lengthAdjust="spacingAndGlyphs">HbS: 55%</text>
<text x="425.50" y="113.35" font-size="7.4" fill="#303030" textLength="32.50" lengthAdjust="spacingAndGlyphs">HbF: 45%</text>
<text x="469.10" y="126.50" font-size="5.6" fill="#303030" textLength="8.80" lengthAdjust="spacingAndGlyphs" transform="rotate(-90 469.10 126.50)">HbF</text>
<text x="495.90" y="96.20" font-size="5.6" fill="#303030" textLength="9.80" lengthAdjust="spacingAndGlyphs" transform="rotate(-90 495.90 96.20)">HbS</text>
<polyline points="424.00,153.70 424.20,153.70 424.40,153.70 424.60,153.70 424.80,153.70 425.00,153.70 425.20,153.70 425.40,153.70 425.60,153.71 425.80,153.71 426.00,153.71 426.20,153.71 426.40,153.71 426.60,153.71 426.80,153.71 427.00,153.71 427.20,153.71 427.40,153.71 427.60,153.71 427.80,153.71 428.00,153.71 428.20,153.71 428.40,153.71 428.60,153.72 428.80,153.72 429.00,153.72 429.20,153.72 429.40,153.72 429.60,153.71 429.80,153.69 430.00,153.59 430.20,153.29 430.40,152.57 430.60,151.19 430.80,149.14 431.00,146.92 431.20,145.43 431.40,145.43 431.60,146.90 431.80,149.09 432.00,151.06 432.20,152.29 432.40,152.74 432.60,152.62 432.80,152.18 433.00,151.60 433.20,151.08 433.40,150.77 433.60,150.77 433.80,151.08 434.00,151.61 434.20,152.20 434.40,152.74 434.60,153.13 434.80,153.35 435.00,153.43 435.20,153.39 435.40,153.23 435.60,152.98 435.80,152.62 436.00,152.15 436.20,151.61 436.40,151.01 436.60,150.42 436.80,149.89 437.00,149.49 437.20,149.27 437.40,149.27 437.60,149.48 437.80,149.87 438.00,150.38 438.20,150.93 438.40,151.45 438.60,151.86 438.80,152.08 439.00,152.08 439.20,151.81 439.40,151.24 439.60,150.37 439.80,149.23 440.00,147.89 440.20,146.44 440.40,145.04 440.60,143.85 440.80,143.00 441.00,142.61 441.20,142.70 441.40,143.25 441.60,144.16 441.80,145.28 442.00,146.47 442.20,147.61 442.40,148.60 442.60,149.39 442.80,150.00 443.00,150.43 443.20,150.74 443.40,150.97 443.60,151.16 443.80,151.34 444.00,151.52 444.20,151.72 444.40,151.93 444.60,152.14 444.80,152.36 445.00,152.57 445.20,152.78 445.40,152.96 445.60,153.13 445.80,153.27 446.00,153.39 446.20,153.48 446.40,153.56 446.60,153.62 446.80,153.67 447.00,153.70 447.20,153.73 447.40,153.75 447.60,153.76 447.80,153.77 448.00,153.77 448.20,153.78 448.40,153.78 448.60,153.78 448.80,153.78 449.00,153.78 449.20,153.79 449.40,153.79 449.60,153.79 449.80,153.79 450.00,153.79 450.20,153.79 450.40,153.79 450.60,153.79 450.80,153.79 451.00,153.79 451.20,153.79 451.40,153.79 451.60,153.79 451.80,153.79 452.00,153.80 452.20,153.80 452.40,153.80 452.60,153.80 452.80,153.80 453.00,153.80 453.20,153.80 453.40,153.80 453.60,153.80 453.80,153.80 454.00,153.80 454.20,153.80 454.40,153.80 454.60,153.80 454.80,153.80 455.00,153.81 455.20,153.81 455.40,153.81 455.60,153.81 455.80,153.81 456.00,153.81 456.20,153.81 456.40,153.81 456.60,153.81 456.80,153.81 457.00,153.81 457.20,153.81 457.40,153.81 457.60,153.81 457.80,153.82 458.00,153.82 458.20,153.82 458.40,153.82 458.60,153.82 458.80,153.82 459.00,153.82 459.20,153.82 459.40,153.82 459.60,153.82 459.80,153.82 460.00,153.82 460.20,153.82 460.40,153.82 460.60,153.82 460.80,153.83 461.00,153.83 461.20,153.83 461.40,153.83 461.60,153.83 461.80,153.83 462.00,153.83 462.20,153.83 462.40,153.83 462.60,153.83 462.80,153.83 463.00,153.83 463.20,153.82 463.40,153.81 463.60,153.78 463.80,153.73 464.00,153.64 464.20,153.47 464.40,153.20 464.60,152.76 464.80,152.10 465.00,151.14 465.20,149.81 465.40,148.07 465.60,145.89 465.80,143.32 466.00,140.46 466.20,137.50 466.40,134.67 466.60,132.22 466.80,130.42 467.00,129.47 467.20,129.47 467.40,130.43 467.60,132.23 467.80,134.67 468.00,137.51 468.20,140.47 468.40,143.33 468.60,145.90 468.80,148.08 469.00,149.82 469.20,151.15 469.40,152.12 469.60,152.78 469.80,153.22 470.00,153.49 470.20,153.66 470.40,153.75 470.60,153.81 470.80,153.83 471.00,153.85 471.20,153.86 471.40,153.86 471.60,153.86 471.80,153.86 472.00,153.86 472.20,153.86 472.40,153.86 472.60,153.87 472.80,153.87 473.00,153.87 473.20,153.87 473.40,153.87 473.60,153.87 473.80,153.87 474.00,153.87 474.20,153.87 474.40,153.87 474.60,153.87 474.80,153.87 475.00,153.87 475.20,153.87 475.40,153.87 475.60,153.87 475.80,153.87 476.00,153.87 476.20,153.86 476.40,153.84 476.60,153.81 476.80,153.76 477.00,153.68 477.20,153.56 477.40,153.40 477.60,153.20 477.80,152.97 478.00,152.75 478.20,152.56 478.40,152.43 478.60,152.39 478.80,152.43 479.00,152.56 479.20,152.76 479.40,152.98 479.60,153.20 479.80,153.40 480.00,153.55 480.20,153.66 480.40,153.71 480.60,153.71 480.80,153.65 481.00,153.53 481.20,153.35 481.40,153.12 481.60,152.83 481.80,152.53 482.00,152.25 482.20,152.03 482.40,151.91 482.60,151.92 482.80,152.04 483.00,152.26 483.20,152.54 483.40,152.84 483.60,153.13 483.80,153.37 484.00,153.56 484.20,153.70 484.40,153.79 484.60,153.84 484.80,153.88 485.00,153.89 485.20,153.90 485.40,153.91 485.60,153.91 485.80,153.91 486.00,153.91 486.20,153.91 486.40,153.91 486.60,153.91 486.80,153.91 487.00,153.91 487.20,153.91 487.40,153.90 487.60,153.87 487.80,153.79 488.00,153.62 488.20,153.28 488.40,152.64 488.60,151.55 488.80,149.89 489.00,147.61 489.20,144.81 489.40,141.80 489.60,139.06 489.80,137.12 490.00,136.42 490.20,137.13 490.40,139.06 490.60,141.80 490.80,144.81 491.00,147.59 491.20,149.82 491.40,151.35 491.60,152.14 491.80,152.19 492.00,151.39 492.20,149.55 492.40,146.37 492.60,141.56 492.80,135.00 493.00,126.92 493.20,118.03 493.40,109.50 493.60,102.70 493.80,98.93 494.00,98.93 494.20,102.71 494.40,109.50 494.60,118.04 494.80,126.93 495.00,135.01 495.20,141.59 495.40,146.43 495.60,149.69 495.80,151.70 496.00,152.84 496.20,153.44 496.40,153.73 496.60,153.86 496.80,153.92 497.00,153.94 497.20,153.95 497.40,153.95 497.60,153.95 497.80,153.95 498.00,153.95 498.20,153.95 498.40,153.95 498.60,153.95 498.80,153.95 499.00,153.96 499.20,153.96 499.40,153.96 499.60,153.96 499.80,153.96 500.00,153.96 500.20,153.96 500.40,153.96 500.60,153.96 500.80,153.96 501.00,153.96 501.20,153.96 501.40,153.96 501.60,153.96 501.80,153.97 502.00,153.97 502.20,153.97 502.40,153.97 502.60,153.97 502.80,153.97 503.00,153.97 503.20,153.97 503.40,153.97 503.60,153.97 503.80,153.97 504.00,153.97 504.20,153.97 504.40,153.97 504.60,153.97 504.80,153.98 505.00,153.98 505.20,153.98 505.40,153.98 505.60,153.98 505.80,153.98 506.00,153.98 506.20,153.98 506.40,153.98 506.60,153.98 506.80,153.98 507.00,153.98 507.20,153.98 507.40,153.98 507.60,153.98 507.80,153.99 508.00,153.99 508.20,153.99 508.40,153.99 508.60,153.99 508.80,153.99 509.00,153.99 509.20,153.99 509.40,153.99 509.60,153.99 509.80,153.99 510.00,153.99 510.20,153.99 510.40,153.99 510.60,154.00 510.80,154.00 511.00,154.00 511.20,154.00 511.40,154.00 511.60,154.00 511.80,154.00" fill="none" stroke="#a0163c" stroke-width="1.7" stroke-linejoin="round"/>
<line x1="295.00" y1="177.50" x2="295.00" y2="300.20" stroke="#111" stroke-width="1.6"/>
<line x1="294.20" y1="299.50" x2="385.00" y2="299.50" stroke="#111" stroke-width="1.4"/>
<line x1="293.40" y1="295.38" x2="295.00" y2="295.38" stroke="#111" stroke-width="0.8"/>
<line x1="293.40" y1="292.75" x2="295.00" y2="292.75" stroke="#111" stroke-width="0.8"/>
<line x1="293.40" y1="290.12" x2="295.00" y2="290.12" stroke="#111" stroke-width="0.8"/>
<line x1="293.40" y1="287.50" x2="295.00" y2="287.50" stroke="#111" stroke-width="0.8"/>
<line x1="293.40" y1="284.88" x2="295.00" y2="284.88" stroke="#111" stroke-width="0.8"/>
<line x1="293.40" y1="282.25" x2="295.00" y2="282.25" stroke="#111" stroke-width="0.8"/>
<line x1="293.40" y1="279.62" x2="295.00" y2="279.62" stroke="#111" stroke-width="0.8"/>
<line x1="293.40" y1="277.00" x2="295.00" y2="277.00" stroke="#111" stroke-width="0.8"/>
<line x1="293.40" y1="274.38" x2="295.00" y2="274.38" stroke="#111" stroke-width="0.8"/>
<line x1="293.40" y1="269.12" x2="295.00" y2="269.12" stroke="#111" stroke-width="0.8"/>
<line x1="293.40" y1="266.50" x2="295.00" y2="266.50" stroke="#111" stroke-width="0.8"/>
<line x1="293.40" y1="263.88" x2="295.00" y2="263.88" stroke="#111" stroke-width="0.8"/>
<line x1="293.40" y1="261.25" x2="295.00" y2="261.25" stroke="#111" stroke-width="0.8"/>
<line x1="293.40" y1="258.62" x2="295.00" y2="258.62" stroke="#111" stroke-width="0.8"/>
<line x1="293.40" y1="256.00" x2="295.00" y2="256.00" stroke="#111" stroke-width="0.8"/>
<line x1="293.40" y1="253.38" x2="295.00" y2="253.38" stroke="#111" stroke-width="0.8"/>
<line x1="293.40" y1="250.75" x2="295.00" y2="250.75" stroke="#111" stroke-width="0.8"/>
<line x1="293.40" y1="248.12" x2="295.00" y2="248.12" stroke="#111" stroke-width="0.8"/>
<line x1="293.40" y1="242.88" x2="295.00" y2="242.88" stroke="#111" stroke-width="0.8"/>
<line x1="293.40" y1="240.25" x2="295.00" y2="240.25" stroke="#111" stroke-width="0.8"/>
<line x1="293.40" y1="237.62" x2="295.00" y2="237.62" stroke="#111" stroke-width="0.8"/>
<line x1="293.40" y1="235.00" x2="295.00" y2="235.00" stroke="#111" stroke-width="0.8"/>
<line x1="293.40" y1="232.38" x2="295.00" y2="232.38" stroke="#111" stroke-width="0.8"/>
<line x1="293.40" y1="229.75" x2="295.00" y2="229.75" stroke="#111" stroke-width="0.8"/>
<line x1="293.40" y1="227.12" x2="295.00" y2="227.12" stroke="#111" stroke-width="0.8"/>
<line x1="293.40" y1="224.50" x2="295.00" y2="224.50" stroke="#111" stroke-width="0.8"/>
<line x1="293.40" y1="221.88" x2="295.00" y2="221.88" stroke="#111" stroke-width="0.8"/>
<line x1="293.40" y1="216.62" x2="295.00" y2="216.62" stroke="#111" stroke-width="0.8"/>
<line x1="293.40" y1="214.00" x2="295.00" y2="214.00" stroke="#111" stroke-width="0.8"/>
<line x1="293.40" y1="211.38" x2="295.00" y2="211.38" stroke="#111" stroke-width="0.8"/>
<line x1="293.40" y1="208.75" x2="295.00" y2="208.75" stroke="#111" stroke-width="0.8"/>
<line x1="293.40" y1="206.12" x2="295.00" y2="206.12" stroke="#111" stroke-width="0.8"/>
<line x1="293.40" y1="203.50" x2="295.00" y2="203.50" stroke="#111" stroke-width="0.8"/>
<line x1="293.40" y1="200.88" x2="295.00" y2="200.88" stroke="#111" stroke-width="0.8"/>
<line x1="293.40" y1="198.25" x2="295.00" y2="198.25" stroke="#111" stroke-width="0.8"/>
<line x1="293.40" y1="195.62" x2="295.00" y2="195.62" stroke="#111" stroke-width="0.8"/>
<line x1="293.40" y1="190.38" x2="295.00" y2="190.38" stroke="#111" stroke-width="0.8"/>
<line x1="293.40" y1="187.75" x2="295.00" y2="187.75" stroke="#111" stroke-width="0.8"/>
<line x1="293.40" y1="185.12" x2="295.00" y2="185.12" stroke="#111" stroke-width="0.8"/>
<line x1="293.40" y1="182.50" x2="295.00" y2="182.50" stroke="#111" stroke-width="0.8"/>
<line x1="293.40" y1="179.88" x2="295.00" y2="179.88" stroke="#111" stroke-width="0.8"/>
<line x1="291.80" y1="298.00" x2="295.00" y2="298.00" stroke="#111" stroke-width="1.0"/>
<text x="289.60" y="300.75" font-size="7.6" fill="#303030" text-anchor="end" textLength="16.60" lengthAdjust="spacingAndGlyphs">0.00</text>
<line x1="291.80" y1="272.00" x2="295.00" y2="272.00" stroke="#111" stroke-width="1.0"/>
<text x="289.60" y="274.75" font-size="7.6" fill="#303030" text-anchor="end" textLength="16.60" lengthAdjust="spacingAndGlyphs">0.01</text>
<line x1="291.80" y1="245.50" x2="295.00" y2="245.50" stroke="#111" stroke-width="1.0"/>
<text x="289.60" y="248.25" font-size="7.6" fill="#303030" text-anchor="end" textLength="16.60" lengthAdjust="spacingAndGlyphs">0.02</text>
<line x1="291.80" y1="219.50" x2="295.00" y2="219.50" stroke="#111" stroke-width="1.0"/>
<text x="289.60" y="222.25" font-size="7.6" fill="#303030" text-anchor="end" textLength="16.60" lengthAdjust="spacingAndGlyphs">0.03</text>
<line x1="291.80" y1="193.00" x2="295.00" y2="193.00" stroke="#111" stroke-width="1.0"/>
<text x="289.60" y="195.75" font-size="7.6" fill="#303030" text-anchor="end" textLength="16.60" lengthAdjust="spacingAndGlyphs">0.04</text>
<line x1="299.70" y1="299.50" x2="299.70" y2="301.20" stroke="#111" stroke-width="0.8"/>
<line x1="303.40" y1="299.50" x2="303.40" y2="301.20" stroke="#111" stroke-width="0.8"/>
<line x1="307.10" y1="299.50" x2="307.10" y2="301.20" stroke="#111" stroke-width="0.8"/>
<line x1="310.80" y1="299.50" x2="310.80" y2="301.20" stroke="#111" stroke-width="0.8"/>
<line x1="314.50" y1="299.50" x2="314.50" y2="302.50" stroke="#111" stroke-width="1.0"/>
<line x1="318.20" y1="299.50" x2="318.20" y2="301.20" stroke="#111" stroke-width="0.8"/>
<line x1="321.90" y1="299.50" x2="321.90" y2="301.20" stroke="#111" stroke-width="0.8"/>
<line x1="325.60" y1="299.50" x2="325.60" y2="301.20" stroke="#111" stroke-width="0.8"/>
<line x1="329.30" y1="299.50" x2="329.30" y2="301.20" stroke="#111" stroke-width="0.8"/>
<line x1="333.00" y1="299.50" x2="333.00" y2="302.50" stroke="#111" stroke-width="1.0"/>
<line x1="336.70" y1="299.50" x2="336.70" y2="301.20" stroke="#111" stroke-width="0.8"/>
<line x1="340.40" y1="299.50" x2="340.40" y2="301.20" stroke="#111" stroke-width="0.8"/>
<line x1="344.10" y1="299.50" x2="344.10" y2="301.20" stroke="#111" stroke-width="0.8"/>
<line x1="347.80" y1="299.50" x2="347.80" y2="301.20" stroke="#111" stroke-width="0.8"/>
<line x1="351.50" y1="299.50" x2="351.50" y2="302.50" stroke="#111" stroke-width="1.0"/>
<line x1="355.20" y1="299.50" x2="355.20" y2="301.20" stroke="#111" stroke-width="0.8"/>
<line x1="358.90" y1="299.50" x2="358.90" y2="301.20" stroke="#111" stroke-width="0.8"/>
<line x1="362.60" y1="299.50" x2="362.60" y2="301.20" stroke="#111" stroke-width="0.8"/>
<line x1="366.30" y1="299.50" x2="366.30" y2="301.20" stroke="#111" stroke-width="0.8"/>
<line x1="370.00" y1="299.50" x2="370.00" y2="302.50" stroke="#111" stroke-width="1.0"/>
<line x1="373.70" y1="299.50" x2="373.70" y2="301.20" stroke="#111" stroke-width="0.8"/>
<line x1="377.40" y1="299.50" x2="377.40" y2="301.20" stroke="#111" stroke-width="0.8"/>
<line x1="381.10" y1="299.50" x2="381.10" y2="301.20" stroke="#111" stroke-width="0.8"/>
<text x="313.90" y="312.30" font-size="7.6" fill="#303030" text-anchor="middle" textLength="11.00" lengthAdjust="spacingAndGlyphs">2.5</text>
<text x="332.90" y="312.30" font-size="7.6" fill="#303030" text-anchor="middle" textLength="11.00" lengthAdjust="spacingAndGlyphs">5.0</text>
<text x="351.40" y="312.30" font-size="7.6" fill="#303030" text-anchor="middle" textLength="11.00" lengthAdjust="spacingAndGlyphs">7.5</text>
<text x="370.40" y="312.30" font-size="7.6" fill="#303030" text-anchor="middle" textLength="15.00" lengthAdjust="spacingAndGlyphs">10.0</text>
<text x="268.60" y="238.40" font-size="8.4" fill="#303030" text-anchor="middle" textLength="13.20" lengthAdjust="spacingAndGlyphs" transform="rotate(-90 268.60 238.40)">Volt</text>
<text x="340.00" y="188.80" font-size="8.2" fill="#303030" text-anchor="middle" textLength="11.10" lengthAdjust="spacingAndGlyphs">HU</text>
<text x="321.25" y="221.35" font-size="7.4" fill="#303030" textLength="32.50" lengthAdjust="spacingAndGlyphs">HbS: 46%</text>
<text x="297.50" y="253.85" font-size="7.4" fill="#303030" textLength="33.00" lengthAdjust="spacingAndGlyphs">HbF: 54%</text>
<text x="340.50" y="247.90" font-size="5.6" fill="#303030" textLength="10.00" lengthAdjust="spacingAndGlyphs" transform="rotate(-90 340.50 247.90)">HbF</text>
<text x="367.40" y="228.00" font-size="5.6" fill="#303030" textLength="10.40" lengthAdjust="spacingAndGlyphs" transform="rotate(-90 367.40 228.00)">HbS</text>
<text x="340.00" y="326.60" font-size="9.6" fill="#303030" text-anchor="middle" textLength="27.50" lengthAdjust="spacingAndGlyphs">Minutes</text>
<polyline points="296.00,298.75 296.20,298.78 296.40,298.80 296.60,298.83 296.80,298.86 297.00,298.89 297.20,298.91 297.40,298.94 297.60,298.97 297.80,299.00 298.00,299.02 298.20,299.05 298.40,299.08 298.60,299.11 298.80,299.13 299.00,299.16 299.20,299.19 299.40,299.22 299.60,299.24 299.80,299.27 300.00,299.30 300.20,299.28 300.40,299.26 300.60,299.25 300.80,299.23 301.00,299.21 301.20,299.19 301.40,299.17 301.60,299.16 301.80,299.13 302.00,299.09 302.20,298.95 302.40,298.54 302.60,297.46 302.80,295.14 303.00,291.22 303.20,286.21 303.40,281.76 303.60,279.89 303.80,281.43 304.00,285.21 304.20,288.85 304.40,290.47 304.60,289.87 304.80,288.36 305.00,287.70 305.20,288.83 305.40,291.40 305.60,294.27 305.80,296.51 306.00,297.83 306.20,298.43 306.40,298.63 306.60,298.67 306.80,298.64 307.00,298.55 307.20,298.36 307.40,297.98 307.60,297.25 307.80,295.98 308.00,293.95 308.20,291.00 308.40,287.17 308.60,282.75 308.80,278.35 309.00,274.74 309.20,272.66 309.40,272.52 309.60,274.26 309.80,277.32 310.00,280.88 310.20,284.12 310.40,286.54 310.60,288.05 310.80,288.93 311.00,289.53 311.20,289.99 311.40,290.16 311.60,289.57 311.80,287.78 312.00,284.69 312.20,280.80 312.40,277.11 312.60,274.81 312.80,274.69 313.00,276.83 313.20,280.53 313.40,284.74 313.60,288.48 313.80,291.22 314.00,292.91 314.20,293.77 314.40,294.14 314.60,294.31 314.80,294.47 315.00,294.68 315.20,294.97 315.40,295.34 315.60,295.73 315.80,296.13 316.00,296.49 316.20,296.80 316.40,297.06 316.60,297.25 316.80,297.38 317.00,297.46 317.20,297.50 317.40,297.52 317.60,297.51 317.80,297.48 318.00,297.45 318.20,297.40 318.40,297.35 318.60,297.29 318.80,297.22 319.00,297.13 319.20,297.03 319.40,296.89 319.60,296.72 319.80,296.50 320.00,296.23 320.20,295.92 320.40,295.55 320.60,295.14 320.80,294.69 321.00,294.24 321.20,293.82 321.40,293.45 321.60,293.17 321.80,292.99 322.00,292.93 322.20,292.98 322.40,293.10 322.60,293.29 322.80,293.49 323.00,293.68 323.20,293.82 323.40,293.89 323.60,293.87 323.80,293.75 324.00,293.52 324.20,293.19 324.40,292.75 324.60,292.22 324.80,291.61 325.00,290.95 325.20,290.27 325.40,289.61 325.60,289.01 325.80,288.52 326.00,288.17 326.20,287.98 326.40,287.96 326.60,288.10 326.80,288.39 327.00,288.78 327.20,289.23 327.40,289.71 327.60,290.17 327.80,290.57 328.00,290.90 328.20,291.15 328.40,291.31 328.60,291.38 328.80,291.38 329.00,291.31 329.20,291.21 329.40,291.08 329.60,290.96 329.80,290.85 330.00,290.78 330.20,290.77 330.40,290.83 330.60,290.96 330.80,291.16 331.00,291.43 331.20,291.76 331.40,292.13 331.60,292.52 331.80,292.93 332.00,293.32 332.20,293.70 332.40,294.06 332.60,294.38 332.80,294.67 333.00,294.93 333.20,295.15 333.40,295.35 333.60,295.53 333.80,295.69 334.00,295.83 334.20,295.96 334.40,296.07 334.60,296.15 334.80,296.20 335.00,296.20 335.20,296.12 335.40,295.93 335.60,295.56 335.80,294.95 336.00,294.01 336.20,292.63 336.40,290.72 336.60,288.20 336.80,285.00 337.00,281.13 337.20,276.68 337.40,271.81 337.60,266.79 337.80,261.94 338.00,257.64 338.20,254.25 338.40,252.08 338.60,251.35 338.80,252.12 339.00,254.33 339.20,257.76 339.40,262.10 339.60,267.00 339.80,272.06 340.00,276.98 340.20,281.48 340.40,285.41 340.60,288.67 340.80,291.26 341.00,293.23 341.20,294.68 341.40,295.70 341.60,296.39 341.80,296.85 342.00,297.13 342.20,297.31 342.40,297.41 342.60,297.47 342.80,297.51 343.00,297.53 343.20,297.54 343.40,297.55 343.60,297.55 343.80,297.56 344.00,297.56 344.20,297.56 344.40,297.57 344.60,297.57 344.80,297.57 345.00,297.58 345.20,297.58 345.40,297.58 345.60,297.59 345.80,297.59 346.00,297.59 346.20,297.59 346.40,297.57 346.60,297.55 346.80,297.49 347.00,297.39 347.20,297.21 347.40,296.94 347.60,296.54 347.80,296.00 348.00,295.34 348.20,294.59 348.40,293.86 348.60,293.22 348.80,292.79 349.00,292.64 349.20,292.80 349.40,293.23 349.60,293.88 349.80,294.62 350.00,295.37 350.20,296.04 350.40,296.58 350.60,296.99 350.80,297.27 351.00,297.45 351.20,297.56 351.40,297.62 351.60,297.66 351.80,297.67 352.00,297.68 352.20,297.69 352.40,297.69 352.60,297.70 352.80,297.70 353.00,297.70 353.20,297.70 353.40,297.69 353.60,297.67 353.80,297.62 354.00,297.54 354.20,297.40 354.40,297.18 354.60,296.86 354.80,296.43 355.00,295.89 355.20,295.28 355.40,294.67 355.60,294.12 355.80,293.71 356.00,293.49 356.20,293.45 356.40,293.56 356.60,293.75 356.80,293.92 357.00,293.99 357.20,293.89 357.40,293.63 357.60,293.23 357.80,292.76 358.00,292.31 358.20,291.96 358.40,291.77 358.60,291.80 358.80,292.03 359.00,292.40 359.20,292.73 359.40,292.59 359.60,291.28 359.80,288.07 360.00,282.92 360.20,277.17 360.40,273.38 360.60,273.59 360.80,277.66 361.00,283.16 361.20,287.00 361.40,287.27 361.60,283.92 361.80,278.56 362.00,273.73 362.20,271.80 362.40,273.75 362.60,278.59 362.80,283.83 363.00,286.60 363.20,284.83 363.40,278.50 363.60,270.41 363.80,264.71 364.00,263.34 364.20,264.21 364.40,263.40 364.60,258.78 364.80,251.05 365.00,242.49 365.20,235.38 365.40,231.41 365.60,231.42 365.80,235.45 366.00,242.79 366.20,252.22 366.40,262.33 366.60,271.88 366.80,280.02 367.00,286.37 367.20,290.92 367.40,293.93 367.60,295.79 367.80,296.86 368.00,297.43 368.20,297.71 368.40,297.85 368.60,297.91 368.80,297.93 369.00,297.95 369.20,297.95 369.40,297.96 369.60,297.96 369.80,297.96 370.00,297.97 370.20,297.97 370.40,297.97 370.60,297.98 370.80,297.98 371.00,297.98 371.20,297.99 371.40,297.99 371.60,297.99 371.80,297.99 372.00,298.00 372.20,298.00 372.40,298.00 372.60,298.01 372.80,298.01 373.00,298.01 373.20,298.02 373.40,298.02 373.60,298.02 373.80,298.03 374.00,298.03 374.20,298.03 374.40,298.04 374.60,298.04 374.80,298.04 375.00,298.04 375.20,298.05 375.40,298.05 375.60,298.05 375.80,298.06 376.00,298.06 376.20,298.06 376.40,298.07 376.60,298.07 376.80,298.07 377.00,298.08 377.20,298.08 377.40,298.08 377.60,298.08 377.80,298.09 378.00,298.09 378.20,298.09 378.40,298.10 378.60,298.10 378.80,298.10 379.00,298.11 379.20,298.11 379.40,298.11 379.60,298.12 379.80,298.12 380.00,298.12 380.20,298.13 380.40,298.13 380.60,298.13 380.80,298.13 381.00,298.14 381.20,298.14 381.40,298.14 381.60,298.15 381.80,298.15 382.00,298.15 382.20,298.16 382.40,298.16 382.60,298.16 382.80,298.17 383.00,298.17 383.20,298.17 383.40,298.18 383.60,298.18 383.80,298.18 384.00,298.18 384.20,298.19 384.40,298.19 384.60,298.19 384.80,298.20" fill="none" stroke="#a0163c" stroke-width="1.7" stroke-linejoin="round"/>
<rect x="360.00" y="271.20" width="4.40" height="11.40" fill="#a0163c"/>
<line x1="422.50" y1="178.75" x2="422.50" y2="299.95" stroke="#111" stroke-width="1.6"/>
<line x1="421.70" y1="299.25" x2="512.50" y2="299.25" stroke="#111" stroke-width="1.4"/>
<line x1="420.90" y1="294.91" x2="422.50" y2="294.91" stroke="#111" stroke-width="0.8"/>
<line x1="420.90" y1="292.31" x2="422.50" y2="292.31" stroke="#111" stroke-width="0.8"/>
<line x1="420.90" y1="289.72" x2="422.50" y2="289.72" stroke="#111" stroke-width="0.8"/>
<line x1="420.90" y1="287.12" x2="422.50" y2="287.12" stroke="#111" stroke-width="0.8"/>
<line x1="420.90" y1="284.53" x2="422.50" y2="284.53" stroke="#111" stroke-width="0.8"/>
<line x1="420.90" y1="281.94" x2="422.50" y2="281.94" stroke="#111" stroke-width="0.8"/>
<line x1="420.90" y1="279.34" x2="422.50" y2="279.34" stroke="#111" stroke-width="0.8"/>
<line x1="420.90" y1="276.75" x2="422.50" y2="276.75" stroke="#111" stroke-width="0.8"/>
<line x1="420.90" y1="274.16" x2="422.50" y2="274.16" stroke="#111" stroke-width="0.8"/>
<line x1="420.90" y1="268.97" x2="422.50" y2="268.97" stroke="#111" stroke-width="0.8"/>
<line x1="420.90" y1="266.38" x2="422.50" y2="266.38" stroke="#111" stroke-width="0.8"/>
<line x1="420.90" y1="263.78" x2="422.50" y2="263.78" stroke="#111" stroke-width="0.8"/>
<line x1="420.90" y1="261.19" x2="422.50" y2="261.19" stroke="#111" stroke-width="0.8"/>
<line x1="420.90" y1="258.59" x2="422.50" y2="258.59" stroke="#111" stroke-width="0.8"/>
<line x1="420.90" y1="256.00" x2="422.50" y2="256.00" stroke="#111" stroke-width="0.8"/>
<line x1="420.90" y1="253.41" x2="422.50" y2="253.41" stroke="#111" stroke-width="0.8"/>
<line x1="420.90" y1="250.81" x2="422.50" y2="250.81" stroke="#111" stroke-width="0.8"/>
<line x1="420.90" y1="248.22" x2="422.50" y2="248.22" stroke="#111" stroke-width="0.8"/>
<line x1="420.90" y1="243.03" x2="422.50" y2="243.03" stroke="#111" stroke-width="0.8"/>
<line x1="420.90" y1="240.44" x2="422.50" y2="240.44" stroke="#111" stroke-width="0.8"/>
<line x1="420.90" y1="237.84" x2="422.50" y2="237.84" stroke="#111" stroke-width="0.8"/>
<line x1="420.90" y1="235.25" x2="422.50" y2="235.25" stroke="#111" stroke-width="0.8"/>
<line x1="420.90" y1="232.66" x2="422.50" y2="232.66" stroke="#111" stroke-width="0.8"/>
<line x1="420.90" y1="230.06" x2="422.50" y2="230.06" stroke="#111" stroke-width="0.8"/>
<line x1="420.90" y1="227.47" x2="422.50" y2="227.47" stroke="#111" stroke-width="0.8"/>
<line x1="420.90" y1="224.88" x2="422.50" y2="224.88" stroke="#111" stroke-width="0.8"/>
<line x1="420.90" y1="222.28" x2="422.50" y2="222.28" stroke="#111" stroke-width="0.8"/>
<line x1="420.90" y1="217.09" x2="422.50" y2="217.09" stroke="#111" stroke-width="0.8"/>
<line x1="420.90" y1="214.50" x2="422.50" y2="214.50" stroke="#111" stroke-width="0.8"/>
<line x1="420.90" y1="211.91" x2="422.50" y2="211.91" stroke="#111" stroke-width="0.8"/>
<line x1="420.90" y1="209.31" x2="422.50" y2="209.31" stroke="#111" stroke-width="0.8"/>
<line x1="420.90" y1="206.72" x2="422.50" y2="206.72" stroke="#111" stroke-width="0.8"/>
<line x1="420.90" y1="204.12" x2="422.50" y2="204.12" stroke="#111" stroke-width="0.8"/>
<line x1="420.90" y1="201.53" x2="422.50" y2="201.53" stroke="#111" stroke-width="0.8"/>
<line x1="420.90" y1="198.94" x2="422.50" y2="198.94" stroke="#111" stroke-width="0.8"/>
<line x1="420.90" y1="196.34" x2="422.50" y2="196.34" stroke="#111" stroke-width="0.8"/>
<line x1="420.90" y1="191.16" x2="422.50" y2="191.16" stroke="#111" stroke-width="0.8"/>
<line x1="420.90" y1="188.56" x2="422.50" y2="188.56" stroke="#111" stroke-width="0.8"/>
<line x1="420.90" y1="185.97" x2="422.50" y2="185.97" stroke="#111" stroke-width="0.8"/>
<line x1="420.90" y1="183.38" x2="422.50" y2="183.38" stroke="#111" stroke-width="0.8"/>
<line x1="420.90" y1="180.78" x2="422.50" y2="180.78" stroke="#111" stroke-width="0.8"/>
<line x1="419.30" y1="297.50" x2="422.50" y2="297.50" stroke="#111" stroke-width="1.0"/>
<text x="417.10" y="300.25" font-size="7.6" fill="#303030" text-anchor="end" textLength="16.60" lengthAdjust="spacingAndGlyphs">0.00</text>
<line x1="419.30" y1="272.00" x2="422.50" y2="272.00" stroke="#111" stroke-width="1.0"/>
<text x="417.10" y="274.75" font-size="7.6" fill="#303030" text-anchor="end" textLength="16.60" lengthAdjust="spacingAndGlyphs">0.01</text>
<line x1="419.30" y1="245.50" x2="422.50" y2="245.50" stroke="#111" stroke-width="1.0"/>
<text x="417.10" y="248.25" font-size="7.6" fill="#303030" text-anchor="end" textLength="16.60" lengthAdjust="spacingAndGlyphs">0.02</text>
<line x1="419.30" y1="220.00" x2="422.50" y2="220.00" stroke="#111" stroke-width="1.0"/>
<text x="417.10" y="222.75" font-size="7.6" fill="#303030" text-anchor="end" textLength="16.60" lengthAdjust="spacingAndGlyphs">0.03</text>
<line x1="419.30" y1="193.75" x2="422.50" y2="193.75" stroke="#111" stroke-width="1.0"/>
<text x="417.10" y="196.50" font-size="7.6" fill="#303030" text-anchor="end" textLength="16.60" lengthAdjust="spacingAndGlyphs">0.04</text>
<line x1="427.00" y1="299.25" x2="427.00" y2="300.95" stroke="#111" stroke-width="0.8"/>
<line x1="430.75" y1="299.25" x2="430.75" y2="300.95" stroke="#111" stroke-width="0.8"/>
<line x1="434.50" y1="299.25" x2="434.50" y2="300.95" stroke="#111" stroke-width="0.8"/>
<line x1="438.25" y1="299.25" x2="438.25" y2="300.95" stroke="#111" stroke-width="0.8"/>
<line x1="442.00" y1="299.25" x2="442.00" y2="302.25" stroke="#111" stroke-width="1.0"/>
<line x1="445.75" y1="299.25" x2="445.75" y2="300.95" stroke="#111" stroke-width="0.8"/>
<line x1="449.50" y1="299.25" x2="449.50" y2="300.95" stroke="#111" stroke-width="0.8"/>
<line x1="453.25" y1="299.25" x2="453.25" y2="300.95" stroke="#111" stroke-width="0.8"/>
<line x1="457.00" y1="299.25" x2="457.00" y2="300.95" stroke="#111" stroke-width="0.8"/>
<line x1="460.75" y1="299.25" x2="460.75" y2="302.25" stroke="#111" stroke-width="1.0"/>
<line x1="464.50" y1="299.25" x2="464.50" y2="300.95" stroke="#111" stroke-width="0.8"/>
<line x1="468.25" y1="299.25" x2="468.25" y2="300.95" stroke="#111" stroke-width="0.8"/>
<line x1="472.00" y1="299.25" x2="472.00" y2="300.95" stroke="#111" stroke-width="0.8"/>
<line x1="475.75" y1="299.25" x2="475.75" y2="300.95" stroke="#111" stroke-width="0.8"/>
<line x1="479.50" y1="299.25" x2="479.50" y2="302.25" stroke="#111" stroke-width="1.0"/>
<line x1="483.25" y1="299.25" x2="483.25" y2="300.95" stroke="#111" stroke-width="0.8"/>
<line x1="487.00" y1="299.25" x2="487.00" y2="300.95" stroke="#111" stroke-width="0.8"/>
<line x1="490.75" y1="299.25" x2="490.75" y2="300.95" stroke="#111" stroke-width="0.8"/>
<line x1="494.50" y1="299.25" x2="494.50" y2="300.95" stroke="#111" stroke-width="0.8"/>
<line x1="498.25" y1="299.25" x2="498.25" y2="302.25" stroke="#111" stroke-width="1.0"/>
<line x1="502.00" y1="299.25" x2="502.00" y2="300.95" stroke="#111" stroke-width="0.8"/>
<line x1="505.75" y1="299.25" x2="505.75" y2="300.95" stroke="#111" stroke-width="0.8"/>
<line x1="509.50" y1="299.25" x2="509.50" y2="300.95" stroke="#111" stroke-width="0.8"/>
<text x="442.00" y="312.30" font-size="7.6" fill="#303030" text-anchor="middle" textLength="11.00" lengthAdjust="spacingAndGlyphs">2.5</text>
<text x="460.75" y="312.30" font-size="7.6" fill="#303030" text-anchor="middle" textLength="11.00" lengthAdjust="spacingAndGlyphs">5.0</text>
<text x="479.25" y="312.30" font-size="7.6" fill="#303030" text-anchor="middle" textLength="11.00" lengthAdjust="spacingAndGlyphs">7.5</text>
<text x="498.25" y="312.30" font-size="7.6" fill="#303030" text-anchor="middle" textLength="15.00" lengthAdjust="spacingAndGlyphs">10.0</text>
<text x="396.30" y="239.50" font-size="8.4" fill="#303030" text-anchor="middle" textLength="13.20" lengthAdjust="spacingAndGlyphs" transform="rotate(-90 396.30 239.50)">Volt</text>
<text x="468.10" y="189.05" font-size="7.7" fill="#303030" text-anchor="middle" textLength="30.80" lengthAdjust="spacingAndGlyphs">Met+HU</text>
<text x="453.75" y="221.35" font-size="7.4" fill="#303030" textLength="32.00" lengthAdjust="spacingAndGlyphs">HbS: 33%</text>
<text x="425.75" y="253.10" font-size="7.4" fill="#303030" textLength="32.50" lengthAdjust="spacingAndGlyphs">HbF: 67%</text>
<text x="469.20" y="249.70" font-size="5.6" fill="#303030" textLength="7.20" lengthAdjust="spacingAndGlyphs" transform="rotate(-90 469.20 249.70)">HbF</text>
<text x="495.50" y="252.90" font-size="5.6" fill="#303030" textLength="10.40" lengthAdjust="spacingAndGlyphs" transform="rotate(-90 495.50 252.90)">HbS</text>
<text x="468.00" y="326.60" font-size="9.6" fill="#303030" text-anchor="middle" textLength="27.50" lengthAdjust="spacingAndGlyphs">Minutes</text>
<polyline points="424.00,297.30 424.20,297.30 424.40,297.30 424.60,297.31 424.80,297.31 425.00,297.31 425.20,297.31 425.40,297.32 425.60,297.32 425.80,297.32 426.00,297.32 426.20,297.32 426.40,297.33 426.60,297.33 426.80,297.33 427.00,297.33 427.20,297.34 427.40,297.34 427.60,297.34 427.80,297.34 428.00,297.35 428.20,297.35 428.40,297.35 428.60,297.35 428.80,297.35 429.00,297.36 429.20,297.36 429.40,297.36 429.60,297.36 429.80,297.34 430.00,297.29 430.20,297.15 430.40,296.83 430.60,296.16 430.80,294.94 431.00,292.97 431.20,290.23 431.40,286.96 431.60,283.74 431.80,281.30 432.00,280.28 432.20,280.86 432.40,282.63 432.60,284.78 432.80,286.42 433.00,287.00 433.20,286.56 433.40,285.60 433.60,284.88 433.80,285.01 434.00,286.22 434.20,288.27 434.40,290.69 434.60,292.95 434.80,294.71 435.00,295.87 435.20,296.46 435.40,296.60 435.60,296.36 435.80,295.78 436.00,294.83 436.20,293.44 436.40,291.58 436.60,289.21 436.80,286.39 437.00,283.27 437.20,280.07 437.40,277.09 437.60,274.65 437.80,273.05 438.00,272.50 438.20,273.05 438.40,274.65 438.60,277.06 438.80,279.95 439.00,282.91 439.20,285.52 439.40,287.42 439.60,288.48 439.80,288.81 440.00,288.75 440.20,288.57 440.40,288.26 440.60,287.57 440.80,286.34 441.00,284.68 441.20,283.05 441.40,281.98 441.60,281.84 441.80,282.70 442.00,284.32 442.20,286.30 442.40,288.25 442.60,289.89 442.80,291.12 443.00,291.98 443.20,292.58 443.40,293.04 443.60,293.45 443.80,293.85 444.00,294.27 444.20,294.71 444.40,295.15 444.60,295.57 444.80,295.95 445.00,296.30 445.20,296.59 445.40,296.84 445.60,297.03 445.80,297.18 446.00,297.30 446.20,297.38 446.40,297.44 446.60,297.48 446.80,297.51 447.00,297.53 447.20,297.54 447.40,297.55 447.60,297.56 447.80,297.56 448.00,297.56 448.20,297.56 448.40,297.56 448.60,297.56 448.80,297.56 449.00,297.55 449.20,297.55 449.40,297.54 449.60,297.53 449.80,297.52 450.00,297.51 450.20,297.49 450.40,297.47 450.60,297.45 450.80,297.42 451.00,297.39 451.20,297.35 451.40,297.30 451.60,297.25 451.80,297.19 452.00,297.12 452.20,297.04 452.40,296.95 452.60,296.85 452.80,296.74 453.00,296.61 453.20,296.47 453.40,296.32 453.60,296.14 453.80,295.93 454.00,295.64 454.20,295.20 454.40,294.51 454.60,293.48 454.80,292.05 455.00,290.37 455.20,288.72 455.40,287.51 455.60,287.07 455.80,287.46 456.00,288.45 456.20,289.64 456.40,290.68 456.60,291.39 456.80,291.74 457.00,291.82 457.20,291.75 457.40,291.60 457.60,291.45 457.80,291.30 458.00,291.17 458.20,291.07 458.40,290.99 458.60,290.94 458.80,290.91 459.00,290.88 459.20,290.83 459.40,290.72 459.60,290.52 459.80,290.21 460.00,289.81 460.20,289.40 460.40,289.10 460.60,289.03 460.80,289.27 461.00,289.81 461.20,290.58 461.40,291.44 461.60,292.26 461.80,292.98 462.00,293.56 462.20,294.01 462.40,294.36 462.60,294.64 462.80,294.87 463.00,295.04 463.20,295.15 463.40,295.17 463.60,295.09 463.80,294.85 464.00,294.43 464.20,293.75 464.40,292.77 464.60,291.43 464.80,289.67 465.00,287.45 465.20,284.76 465.40,281.62 465.60,278.07 465.80,274.23 466.00,270.22 466.20,266.24 466.40,262.50 466.60,259.20 466.80,256.56 467.00,254.76 467.20,253.91 467.40,254.09 467.60,255.28 467.80,257.41 468.00,260.32 468.20,263.83 468.40,267.74 468.60,271.81 468.80,275.86 469.00,279.72 469.20,283.24 469.40,286.35 469.60,289.01 469.80,291.22 470.00,292.98 470.20,294.36 470.40,295.41 470.60,296.18 470.80,296.73 471.00,297.11 471.20,297.38 471.40,297.55 471.60,297.67 471.80,297.74 472.00,297.78 472.20,297.81 472.40,297.83 472.60,297.84 472.80,297.84 473.00,297.85 473.20,297.85 473.40,297.84 473.60,297.83 473.80,297.81 474.00,297.78 474.20,297.73 474.40,297.64 474.60,297.52 474.80,297.34 475.00,297.10 475.20,296.79 475.40,296.40 475.60,295.93 475.80,295.40 476.00,294.84 476.20,294.27 476.40,293.74 476.60,293.29 476.80,292.96 477.00,292.79 477.20,292.79 477.40,292.96 477.60,293.28 477.80,293.73 478.00,294.25 478.20,294.81 478.40,295.36 478.60,295.87 478.80,296.31 479.00,296.67 479.20,296.94 479.40,297.13 479.60,297.24 479.80,297.29 480.00,297.28 480.20,297.22 480.40,297.13 480.60,297.00 480.80,296.84 481.00,296.66 481.20,296.46 481.40,296.24 481.60,296.00 481.80,295.75 482.00,295.49 482.20,295.22 482.40,294.96 482.60,294.70 482.80,294.46 483.00,294.23 483.20,294.02 483.40,293.85 483.60,293.71 483.80,293.60 484.00,293.54 484.20,293.52 484.40,293.54 484.60,293.61 484.80,293.71 485.00,293.85 485.20,294.00 485.40,294.16 485.60,294.29 485.80,294.36 486.00,294.31 486.20,294.12 486.40,293.74 486.60,293.15 486.80,292.38 487.00,291.43 487.20,290.29 487.40,288.89 487.60,287.12 487.80,284.93 488.00,282.38 488.20,279.78 488.40,277.65 488.60,276.60 488.80,277.01 489.00,278.87 489.20,281.56 489.40,283.97 489.60,285.12 489.80,285.26 490.00,285.82 490.20,287.74 490.40,290.14 490.60,291.44 490.80,291.05 491.00,289.41 491.20,287.17 491.40,284.77 491.60,282.40 491.80,280.14 492.00,277.96 492.20,275.72 492.40,273.23 492.60,270.36 492.80,267.07 493.00,263.52 493.20,259.99 493.40,256.93 493.60,254.76 493.80,253.88 494.00,254.51 494.20,256.65 494.40,260.15 494.60,264.66 494.80,269.75 495.00,274.99 495.20,279.98 495.40,284.44 495.60,288.20 495.80,291.20 496.00,293.48 496.20,295.13 496.40,296.27 496.60,297.02 496.80,297.49 497.00,297.78 497.20,297.94 497.40,298.03 497.60,298.08 497.80,298.11 498.00,298.13 498.20,298.13 498.40,298.14 498.60,298.14 498.80,298.14 499.00,298.15 499.20,298.15 499.40,298.15 499.60,298.15 499.80,298.16 500.00,298.16 500.20,298.16 500.40,298.16 500.60,298.16 500.80,298.17 501.00,298.17 501.20,298.17 501.40,298.17 501.60,298.18 501.80,298.18 502.00,298.18 502.20,298.18 502.40,298.18 502.60,298.19 502.80,298.19 503.00,298.19 503.20,298.19 503.40,298.20 503.60,298.20 503.80,298.20 504.00,298.20 504.20,298.21 504.40,298.21 504.60,298.21 504.80,298.21 505.00,298.21 505.20,298.22 505.40,298.22 505.60,298.22 505.80,298.22 506.00,298.23 506.20,298.23 506.40,298.23 506.60,298.23 506.80,298.23 507.00,298.24 507.20,298.24 507.40,298.24 507.60,298.24 507.80,298.25 508.00,298.25 508.20,298.25 508.40,298.25 508.60,298.25 508.80,298.26 509.00,298.26 509.20,298.26 509.40,298.26 509.60,298.27 509.80,298.27 510.00,298.27 510.20,298.27 510.40,298.28 510.60,298.28 510.80,298.28 511.00,298.28 511.20,298.28 511.40,298.29 511.60,298.29 511.80,298.29 512.00,298.29 512.20,298.30 512.40,298.30 512.60,298.30" fill="none" stroke="#a0163c" stroke-width="1.7" stroke-linejoin="round"/>
<line x1="67.00" y1="367.50" x2="67.00" y2="478.00" stroke="#111" stroke-width="1.8"/>
<line x1="66.10" y1="477.30" x2="230.00" y2="477.30" stroke="#111" stroke-width="1.4"/>
<line x1="64.00" y1="477.00" x2="67.00" y2="477.00" stroke="#111" stroke-width="1.0"/>
<text x="61.00" y="479.80" font-size="7.8" fill="#303030" text-anchor="end" textLength="4.60" lengthAdjust="spacingAndGlyphs">0</text>
<line x1="64.00" y1="450.10" x2="67.00" y2="450.10" stroke="#111" stroke-width="1.0"/>
<text x="61.00" y="452.90" font-size="7.8" fill="#303030" text-anchor="end" textLength="9.40" lengthAdjust="spacingAndGlyphs">20</text>
<line x1="64.00" y1="423.20" x2="67.00" y2="423.20" stroke="#111" stroke-width="1.0"/>
<text x="61.00" y="426.00" font-size="7.8" fill="#303030" text-anchor="end" textLength="9.40" lengthAdjust="spacingAndGlyphs">40</text>
<line x1="64.00" y1="396.30" x2="67.00" y2="396.30" stroke="#111" stroke-width="1.0"/>
<text x="61.00" y="399.10" font-size="7.8" fill="#303030" text-anchor="end" textLength="9.40" lengthAdjust="spacingAndGlyphs">60</text>
<line x1="64.00" y1="369.40" x2="67.00" y2="369.40" stroke="#111" stroke-width="1.0"/>
<text x="61.00" y="372.20" font-size="7.8" fill="#303030" text-anchor="end" textLength="9.40" lengthAdjust="spacingAndGlyphs">80</text>
<line x1="91.75" y1="477.30" x2="91.75" y2="480.80" stroke="#111" stroke-width="1.0"/>
<line x1="128.75" y1="477.30" x2="128.75" y2="480.80" stroke="#111" stroke-width="1.0"/>
<line x1="166.50" y1="477.30" x2="166.50" y2="480.80" stroke="#111" stroke-width="1.0"/>
<line x1="203.80" y1="477.30" x2="203.80" y2="480.80" stroke="#111" stroke-width="1.0"/>
<text x="91.75" y="490.30" font-size="7.8" fill="#303030" text-anchor="middle" textLength="4.40" lengthAdjust="spacingAndGlyphs">0</text>
<text x="91.75" y="501.55" font-size="7.8" fill="#303030" text-anchor="middle" textLength="4.40" lengthAdjust="spacingAndGlyphs">0</text>
<text x="128.75" y="490.30" font-size="7.8" fill="#303030" text-anchor="middle" textLength="4.40" lengthAdjust="spacingAndGlyphs">0</text>
<text x="128.75" y="501.55" font-size="7.8" fill="#303030" text-anchor="middle" textLength="8.80" lengthAdjust="spacingAndGlyphs">30</text>
<text x="166.50" y="490.30" font-size="7.8" fill="#303030" text-anchor="middle" textLength="13.20" lengthAdjust="spacingAndGlyphs">100</text>
<text x="166.50" y="501.55" font-size="7.8" fill="#303030" text-anchor="middle" textLength="4.40" lengthAdjust="spacingAndGlyphs">0</text>
<text x="203.80" y="490.30" font-size="7.8" fill="#303030" text-anchor="middle" textLength="13.20" lengthAdjust="spacingAndGlyphs">100</text>
<text x="203.80" y="501.55" font-size="7.8" fill="#303030" text-anchor="middle" textLength="8.80" lengthAdjust="spacingAndGlyphs">30</text>
<text x="40.00" y="490.30" font-size="7.8" fill="#303030" textLength="32.50" lengthAdjust="spacingAndGlyphs">Met (μM)</text>
<text x="42.00" y="501.55" font-size="7.8" fill="#303030" textLength="30.50" lengthAdjust="spacingAndGlyphs">HU (μM)</text>
<text x="46.40" y="421.60" font-size="9.2" fill="#303030" text-anchor="middle" textLength="21.80" lengthAdjust="spacingAndGlyphs" transform="rotate(-90 46.40 421.60)">% HbF</text>
<text x="78.75" y="344.10" font-size="10.0" fill="#303030" textLength="122.50" lengthAdjust="spacingAndGlyphs" style="stroke-width:0.1px">HSPCs From Normal Donors</text>
<text x="27.30" y="345.00" font-size="11.4" fill="#000" font-weight="bold">B</text>
<polyline points="91.75,363.50 91.75,357.00 204.25,357.00 204.25,363.50" fill="none" stroke="#111" stroke-width="1.2"/>
<circle cx="144.55" cy="353.70" r="1.1" fill="#111"/>
<circle cx="148.00" cy="353.70" r="1.1" fill="#111"/>
<circle cx="151.45" cy="353.70" r="1.1" fill="#111"/>
<polyline points="91.75,376.50 91.75,370.50 165.75,370.50 165.75,376.50" fill="none" stroke="#111" stroke-width="1.2"/>
<circle cx="125.95" cy="366.40" r="1.1" fill="#111"/>
<circle cx="129.40" cy="366.40" r="1.1" fill="#111"/>
<circle cx="132.85" cy="366.40" r="1.1" fill="#111"/>
<polyline points="91.75,389.50 91.75,383.75 128.25,383.75 128.25,389.50" fill="none" stroke="#111" stroke-width="1.2"/>
<circle cx="106.95" cy="379.60" r="1.1" fill="#111"/>
<circle cx="110.40" cy="379.60" r="1.1" fill="#111"/>
<circle cx="113.85" cy="379.60" r="1.1" fill="#111"/>
<line x1="91.75" y1="461.30" x2="91.75" y2="465.10" stroke="#111" stroke-width="1.1"/>
<line x1="85.75" y1="461.30" x2="97.75" y2="461.30" stroke="#111" stroke-width="1.2"/>
<line x1="85.75" y1="465.10" x2="97.75" y2="465.10" stroke="#111" stroke-width="1.2"/>
<line x1="79.00" y1="463.10" x2="104.00" y2="463.10" stroke="#111" stroke-width="1.4"/>
<circle cx="84.70" cy="460.70" r="2.25" fill="#2b4c7e"/>
<circle cx="91.20" cy="466.00" r="2.25" fill="#2b4c7e"/>
<circle cx="95.90" cy="462.40" r="2.25" fill="#2b4c7e"/>
<line x1="128.75" y1="434.70" x2="128.75" y2="442.20" stroke="#111" stroke-width="1.1"/>
<line x1="122.75" y1="434.70" x2="134.75" y2="434.70" stroke="#111" stroke-width="1.2"/>
<line x1="122.75" y1="442.20" x2="134.75" y2="442.20" stroke="#111" stroke-width="1.2"/>
<line x1="116.50" y1="438.50" x2="141.60" y2="438.50" stroke="#111" stroke-width="1.4"/>
<circle cx="129.50" cy="435.50" r="2.25" fill="#6cad3c"/>
<circle cx="132.20" cy="435.10" r="2.25" fill="#6cad3c"/>
<circle cx="125.10" cy="442.50" r="2.25" fill="#6cad3c"/>
<line x1="166.40" y1="432.30" x2="166.40" y2="442.40" stroke="#111" stroke-width="1.1"/>
<line x1="160.60" y1="432.30" x2="172.20" y2="432.30" stroke="#111" stroke-width="1.2"/>
<line x1="160.60" y1="442.40" x2="172.20" y2="442.40" stroke="#111" stroke-width="1.2"/>
<line x1="154.00" y1="437.30" x2="178.90" y2="437.30" stroke="#111" stroke-width="1.4"/>
<circle cx="162.80" cy="432.60" r="2.25" fill="#a3193e"/>
<circle cx="169.90" cy="436.10" r="2.25" fill="#a3193e"/>
<circle cx="166.40" cy="443.30" r="2.25" fill="#a3193e"/>
<line x1="203.80" y1="411.20" x2="203.80" y2="421.30" stroke="#111" stroke-width="1.1"/>
<line x1="197.80" y1="411.20" x2="209.80" y2="411.20" stroke="#111" stroke-width="1.2"/>
<line x1="197.80" y1="421.30" x2="209.80" y2="421.30" stroke="#111" stroke-width="1.2"/>
<line x1="191.50" y1="416.40" x2="216.00" y2="416.40" stroke="#111" stroke-width="1.4"/>
<circle cx="200.10" cy="411.40" r="2.25" fill="#4b2958"/>
<circle cx="207.20" cy="414.50" r="2.25" fill="#4b2958"/>
<circle cx="203.80" cy="422.20" r="2.25" fill="#4b2958"/>
<line x1="276.10" y1="360.75" x2="276.10" y2="478.00" stroke="#111" stroke-width="1.8"/>
<line x1="275.20" y1="477.30" x2="447.50" y2="477.30" stroke="#111" stroke-width="1.4"/>
<line x1="273.10" y1="476.90" x2="276.10" y2="476.90" stroke="#111" stroke-width="1.0"/>
<text x="270.10" y="479.70" font-size="7.8" fill="#303030" text-anchor="end" textLength="4.60" lengthAdjust="spacingAndGlyphs">0</text>
<line x1="273.10" y1="448.50" x2="276.10" y2="448.50" stroke="#111" stroke-width="1.0"/>
<text x="270.10" y="451.30" font-size="7.8" fill="#303030" text-anchor="end" textLength="9.40" lengthAdjust="spacingAndGlyphs">20</text>
<line x1="273.10" y1="420.10" x2="276.10" y2="420.10" stroke="#111" stroke-width="1.0"/>
<text x="270.10" y="422.90" font-size="7.8" fill="#303030" text-anchor="end" textLength="9.40" lengthAdjust="spacingAndGlyphs">40</text>
<line x1="273.10" y1="391.70" x2="276.10" y2="391.70" stroke="#111" stroke-width="1.0"/>
<text x="270.10" y="394.50" font-size="7.8" fill="#303030" text-anchor="end" textLength="9.40" lengthAdjust="spacingAndGlyphs">60</text>
<line x1="273.10" y1="363.30" x2="276.10" y2="363.30" stroke="#111" stroke-width="1.0"/>
<text x="270.10" y="366.10" font-size="7.8" fill="#303030" text-anchor="end" textLength="9.40" lengthAdjust="spacingAndGlyphs">80</text>
<line x1="302.40" y1="477.30" x2="302.40" y2="480.80" stroke="#111" stroke-width="1.0"/>
<line x1="341.50" y1="477.30" x2="341.50" y2="480.80" stroke="#111" stroke-width="1.0"/>
<line x1="381.10" y1="477.30" x2="381.10" y2="480.80" stroke="#111" stroke-width="1.0"/>
<line x1="420.40" y1="477.30" x2="420.40" y2="480.80" stroke="#111" stroke-width="1.0"/>
<text x="302.40" y="490.30" font-size="7.8" fill="#303030" text-anchor="middle" textLength="4.40" lengthAdjust="spacingAndGlyphs">0</text>
<text x="302.40" y="501.55" font-size="7.8" fill="#303030" text-anchor="middle" textLength="4.40" lengthAdjust="spacingAndGlyphs">0</text>
<text x="341.50" y="490.30" font-size="7.8" fill="#303030" text-anchor="middle" textLength="4.40" lengthAdjust="spacingAndGlyphs">0</text>
<text x="341.50" y="501.55" font-size="7.8" fill="#303030" text-anchor="middle" textLength="8.80" lengthAdjust="spacingAndGlyphs">30</text>
<text x="381.10" y="490.30" font-size="7.8" fill="#303030" text-anchor="middle" textLength="13.20" lengthAdjust="spacingAndGlyphs">100</text>
<text x="381.10" y="501.55" font-size="7.8" fill="#303030" text-anchor="middle" textLength="4.40" lengthAdjust="spacingAndGlyphs">0</text>
<text x="420.40" y="490.30" font-size="7.8" fill="#303030" text-anchor="middle" textLength="13.20" lengthAdjust="spacingAndGlyphs">100</text>
<text x="420.40" y="501.55" font-size="7.8" fill="#303030" text-anchor="middle" textLength="8.80" lengthAdjust="spacingAndGlyphs">30</text>
<text x="250.00" y="490.30" font-size="7.8" fill="#303030" textLength="32.00" lengthAdjust="spacingAndGlyphs">Met (μM)</text>
<text x="252.00" y="501.55" font-size="7.8" fill="#303030" textLength="30.00" lengthAdjust="spacingAndGlyphs">HU (μM)</text>
<text x="255.50" y="419.00" font-size="9.2" fill="#303030" text-anchor="middle" textLength="21.80" lengthAdjust="spacingAndGlyphs" transform="rotate(-90 255.50 419.00)">% HbF</text>
<text x="305.75" y="344.85" font-size="10.0" fill="#303030" textLength="113.00" lengthAdjust="spacingAndGlyphs" style="stroke-width:0.1px">HSPCs From SCD Patients</text>
<text x="236.00" y="346.20" font-size="11.4" fill="#000" font-weight="bold">D</text>
<polyline points="302.40,362.00 302.40,356.25 420.50,356.25 420.50,362.00" fill="none" stroke="#111" stroke-width="1.2"/>
<circle cx="357.80" cy="352.00" r="1.1" fill="#111"/>
<circle cx="361.25" cy="352.00" r="1.1" fill="#111"/>
<circle cx="364.70" cy="352.00" r="1.1" fill="#111"/>
<polyline points="302.40,375.00 302.40,370.00 378.00,370.00 378.00,375.00" fill="none" stroke="#111" stroke-width="1.2"/>
<circle cx="340.00" cy="365.20" r="1.1" fill="#111"/>
<polyline points="302.40,388.00 302.40,382.50 341.30,382.50 341.30,388.00" fill="none" stroke="#111" stroke-width="1.2"/>
<circle cx="321.75" cy="378.30" r="1.1" fill="#111"/>
<line x1="302.30" y1="444.90" x2="302.30" y2="454.30" stroke="#111" stroke-width="1.1"/>
<line x1="296.30" y1="444.90" x2="308.30" y2="444.90" stroke="#111" stroke-width="1.2"/>
<line x1="296.30" y1="454.30" x2="308.30" y2="454.30" stroke="#111" stroke-width="1.2"/>
<line x1="289.10" y1="449.60" x2="315.10" y2="449.60" stroke="#111" stroke-width="1.4"/>
<circle cx="302.30" cy="442.30" r="2.25" fill="#2b4c7e"/>
<circle cx="295.30" cy="449.30" r="2.25" fill="#2b4c7e"/>
<circle cx="309.20" cy="452.30" r="2.25" fill="#2b4c7e"/>
<circle cx="302.30" cy="454.00" r="2.25" fill="#2b4c7e"/>
<line x1="341.50" y1="394.80" x2="341.50" y2="434.90" stroke="#111" stroke-width="1.1"/>
<line x1="334.90" y1="394.80" x2="348.10" y2="394.80" stroke="#111" stroke-width="1.2"/>
<line x1="334.90" y1="434.90" x2="348.10" y2="434.90" stroke="#111" stroke-width="1.2"/>
<line x1="328.30" y1="414.80" x2="354.70" y2="414.80" stroke="#111" stroke-width="1.4"/>
<circle cx="337.90" cy="400.40" r="2.25" fill="#6cad3c"/>
<circle cx="345.20" cy="399.00" r="2.25" fill="#6cad3c"/>
<circle cx="341.50" cy="417.60" r="2.25" fill="#6cad3c"/>
<circle cx="341.50" cy="442.30" r="2.25" fill="#6cad3c"/>
<line x1="381.10" y1="410.40" x2="381.10" y2="429.90" stroke="#111" stroke-width="1.1"/>
<line x1="374.90" y1="410.40" x2="387.30" y2="410.40" stroke="#111" stroke-width="1.2"/>
<line x1="374.90" y1="429.90" x2="387.30" y2="429.90" stroke="#111" stroke-width="1.2"/>
<line x1="368.10" y1="420.10" x2="393.60" y2="420.10" stroke="#111" stroke-width="1.4"/>
<circle cx="374.10" cy="414.30" r="2.25" fill="#a3193e"/>
<circle cx="387.90" cy="413.00" r="2.25" fill="#a3193e"/>
<circle cx="381.10" cy="418.50" r="2.25" fill="#a3193e"/>
<circle cx="381.10" cy="434.20" r="2.25" fill="#a3193e"/>
<line x1="420.30" y1="379.70" x2="420.30" y2="404.70" stroke="#111" stroke-width="1.1"/>
<line x1="413.80" y1="379.70" x2="426.80" y2="379.70" stroke="#111" stroke-width="1.2"/>
<line x1="413.80" y1="404.70" x2="426.80" y2="404.70" stroke="#111" stroke-width="1.2"/>
<line x1="407.30" y1="392.40" x2="433.60" y2="392.40" stroke="#111" stroke-width="1.4"/>
<circle cx="420.30" cy="381.70" r="2.25" fill="#4b2958"/>
<circle cx="417.10" cy="388.00" r="2.25" fill="#4b2958"/>
<circle cx="423.80" cy="388.80" r="2.25" fill="#4b2958"/>
<circle cx="420.30" cy="410.40" r="2.25" fill="#4b2958"/>
<rect x="0.5" y="0.5" width="518" height="509" fill="none" stroke="#000" stroke-width="1"/>
<line x1="519" y1="0" x2="519" y2="511" stroke="#000" stroke-width="2"/>
<line x1="0" y1="510" x2="520" y2="510" stroke="#000" stroke-width="2"/>
</svg>
</body></html>
